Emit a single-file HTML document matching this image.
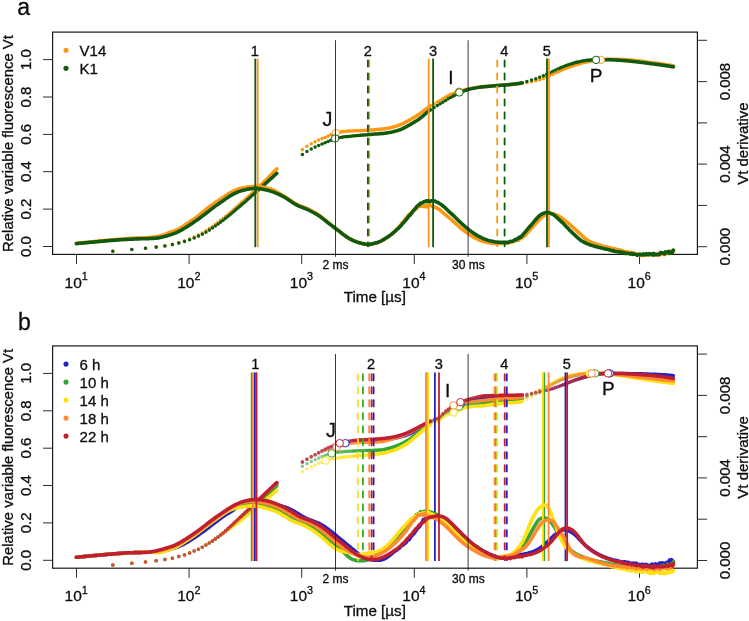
<!DOCTYPE html>
<html><head><meta charset="utf-8"><title>OJIP fluorescence transients</title>
<style>
html,body{margin:0;padding:0;background:#fff;}
body{width:749px;height:621px;overflow:hidden;font-family:"Liberation Sans",sans-serif;}
svg{display:block;will-change:transform;}
svg text{font-family:"Liberation Sans",sans-serif;fill:#0d0d0d;stroke:#0d0d0d;stroke-width:0.3px;}
</style></head><body>
<svg width="749" height="621" viewBox="0 0 749 621">
<rect width="749" height="621" fill="#fff"/>
<g><rect x="52.6" y="32.1" width="644.8" height="222.3" fill="none" stroke="#1a1a1a" stroke-width="1.2"/><text transform="translate(31.2 246.5) rotate(-90)" font-size="15" text-anchor="middle">0.0</text><text transform="translate(31.2 209.1) rotate(-90)" font-size="15" text-anchor="middle">0.2</text><text transform="translate(31.2 171.7) rotate(-90)" font-size="15" text-anchor="middle">0.4</text><text transform="translate(31.2 134.4) rotate(-90)" font-size="15" text-anchor="middle">0.6</text><text transform="translate(31.2 97.0) rotate(-90)" font-size="15" text-anchor="middle">0.8</text><text transform="translate(31.2 59.6) rotate(-90)" font-size="15" text-anchor="middle">1.0</text><text transform="translate(729.8 246.7) rotate(-90)" font-size="15" text-anchor="middle">0.000</text><text transform="translate(729.8 164.1) rotate(-90)" font-size="15" text-anchor="middle">0.004</text><text transform="translate(729.8 81.6) rotate(-90)" font-size="15" text-anchor="middle">0.008</text><text x="76.2" y="287.5" font-size="15.5" text-anchor="middle">10<tspan font-size="10.8" dy="-7.6">1</tspan></text><text x="188.8" y="287.5" font-size="15.5" text-anchor="middle">10<tspan font-size="10.8" dy="-7.6">2</tspan></text><text x="301.4" y="287.5" font-size="15.5" text-anchor="middle">10<tspan font-size="10.8" dy="-7.6">3</tspan></text><text x="414.0" y="287.5" font-size="15.5" text-anchor="middle">10<tspan font-size="10.8" dy="-7.6">4</tspan></text><text x="526.6" y="287.5" font-size="15.5" text-anchor="middle">10<tspan font-size="10.8" dy="-7.6">5</tspan></text><text x="639.2" y="287.5" font-size="15.5" text-anchor="middle">10<tspan font-size="10.8" dy="-7.6">6</tspan></text><path d="M52.6 246.5H43.0M52.6 209.1H43.0M52.6 171.7H43.0M52.6 134.4H43.0M52.6 97.0H43.0M52.6 59.6H43.0M697.4 246.7H707.0M697.4 205.4H707.0M697.4 164.1H707.0M697.4 122.9H707.0M697.4 81.6H707.0M697.4 40.3H707.0M76.5 254.4V264.0M189.1 254.4V264.0M301.7 254.4V264.0M414.3 254.4V264.0M526.9 254.4V264.0M639.5 254.4V264.0" stroke="#222" stroke-width="0.95" fill="none"/><text transform="translate(12.9 143.5) rotate(-90)" font-size="14.9" text-anchor="middle">Relative variable fluorescence Vt</text><text transform="translate(748.1 143.6) rotate(-90)" font-size="15" text-anchor="middle">Vt derivative</text><text x="374.8" y="302.0" font-size="15.2" text-anchor="middle">Time [µs]</text><text x="335.6" y="269.2" font-size="12" text-anchor="middle">2 ms</text><text x="468.3" y="269.2" font-size="12" text-anchor="middle">30 ms</text><text x="17.2" y="14.5" font-size="23" text-anchor="start">a</text><path d="M112.8 251.2h0M131.8 249.4h0M145.5 248.2h0M156.2 247.0h0M164.9 245.7h0M172.4 244.2h0M178.8 242.6h0M184.5 240.8h0M189.6 238.9h0M194.2 237.0h0M198.4 235.0h0M202.3 233.0h0M205.9 230.8h0M209.3 228.6h0M212.4 226.5h0M215.3 224.3h0M218.1 222.3h0M220.7 220.3h0M223.2 218.4h0M225.6 216.5h0M227.9 214.6h0M230.0 212.7h0M232.1 210.9h0M234.1 209.2h0M236.0 207.5h0M237.9 205.9h0M239.6 204.3h0M241.3 202.8h0M243.0 201.4h0M244.6 199.9h0M246.1 198.6h0M247.6 197.2h0M249.1 195.9h0M250.5 194.6h0M251.9 193.3h0M253.2 192.1h0M254.5 190.8h0M255.8 189.7h0M302.4 149.6h0M307.0 146.3h0M311.2 143.7h0M315.1 141.7h0M318.7 140.0h0M322.0 138.6h0M325.1 137.4h0M328.1 136.1h0M330.8 134.7h0M333.5 133.6h0M336.0 132.9h0M338.3 132.3h0M340.6 131.9h0M342.7 131.6h0M344.8 131.4h0M346.8 131.2h0M348.7 131.1h0M350.5 131.0h0M352.3 130.9h0M354.0 130.8h0M355.7 130.7h0M357.3 130.7h0M358.8 130.6h0M360.3 130.6h0M361.8 130.5h0M363.2 130.4h0M364.5 130.4h0M365.9 130.3h0M367.2 130.2h0M434.1 103.7h0M437.3 101.9h0M440.2 100.3h0M443.0 98.6h0M445.7 97.0h0M448.2 95.7h0M450.6 94.5h0M452.9 93.6h0M455.0 92.8h0M457.1 92.1h0M459.1 91.4h0M461.0 90.8h0M462.9 90.2h0M464.6 89.7h0M466.4 89.3h0M468.0 88.9h0M469.6 88.6h0M471.2 88.3h0M472.7 88.0h0M474.1 87.7h0M475.6 87.5h0M476.9 87.3h0M478.3 87.2h0M479.6 87.0h0M480.9 86.9h0M526.9 82.5h0M531.6 81.7h0M535.8 80.7h0M539.7 79.7h0M543.4 78.4h0M546.7 77.0h0M549.9 75.6h0M552.8 74.3h0M555.6 73.0h0M558.3 71.7h0M560.8 70.6h0M563.2 69.6h0M565.5 68.6h0M567.6 67.8h0M569.7 67.0h0M571.7 66.3h0M573.6 65.6h0M575.5 65.0h0M577.2 64.4h0M579.0 63.9h0M580.6 63.4h0M582.2 62.9h0M583.8 62.5h0M585.3 62.2h0M586.7 61.9h0M588.2 61.6h0M589.5 61.3h0M590.9 61.1h0M592.2 60.8h0M593.5 60.6h0" stroke="#FD9812" stroke-width="3.55" stroke-linecap="round" fill="none"/><path d="M257.0 188.5 258.2 187.3 259.4 186.2 260.5 185.1 261.7 184.0 262.8 182.9 263.8 181.9 264.9 180.9 265.9 179.9 266.9 178.9 267.9 177.9 268.9 176.9 269.8 176.0 270.7 175.0 271.7 174.1 272.6 173.2 273.4 172.3 274.3 171.4 275.1 170.5 276.0 169.7 276.8 168.8M368.4 130.2 369.7 130.1 370.9 130.0 372.1 129.9 373.2 129.9 374.3 129.8 375.4 129.7 376.5 129.6 377.5 129.5 378.6 129.4 379.6 129.3 380.6 129.2 381.5 129.1 382.5 129.0 383.4 128.9 384.3 128.8 385.2 128.7 386.1 128.6 386.9 128.5 387.8 128.3 388.6 128.2 389.4 128.0 390.2 127.8 391.0 127.6 391.8 127.4 392.6 127.2 393.3 127.0 394.1 126.8 394.8 126.6 395.5 126.3 396.3 126.1 397.0 125.9 397.7 125.7 398.3 125.4 399.0 125.2 399.7 124.9 400.3 124.7 401.0 124.4 401.6 124.1 402.2 123.9 402.9 123.6 403.5 123.3 404.1 123.0 404.7 122.6 405.3 122.3 405.9 122.0 406.4 121.7 407.0 121.4 407.6 121.1 408.1 120.8 408.7 120.5 409.2 120.2 409.8 119.9 410.3 119.6 410.8 119.3 411.4 119.0 411.9 118.7 412.4 118.4 412.9 118.1 413.4 117.8 413.9 117.5 414.4 117.2 414.9 116.9 415.3 116.6 415.8 116.3 416.3 116.0 416.8 115.7 417.2 115.4 417.7 115.1 418.1 114.9 418.6 114.6 419.0 114.3 419.5 114.0 419.9 113.7 420.3 113.4 420.8 113.1 421.2 112.7 421.6 112.4 422.0 112.1 422.5 111.8 422.9 111.5 423.3 111.2 423.7 110.8 424.1 110.5 424.5 110.2 424.9 109.9 425.3 109.6 425.7 109.3 426.0 109.0 426.4 108.7 426.8 108.4 427.2 108.1 427.6 107.8 427.9 107.5 428.3 107.3 428.7 107.0 429.0 106.8 429.4 106.5 429.7 106.3 430.1 106.1 430.5 105.9M482.1 86.8 483.3 86.7 484.5 86.5 485.6 86.4 486.8 86.4 487.9 86.3 488.9 86.2 490.0 86.1 491.0 86.0 492.0 86.0 493.0 85.9 494.0 85.8 494.9 85.7 495.9 85.7 496.8 85.6 497.7 85.5 498.5 85.5 499.4 85.4 500.3 85.3 501.1 85.3 501.9 85.2 502.7 85.2 503.5 85.1 504.3 85.0 505.1 85.0 505.8 84.9 506.6 84.9 507.3 84.8 508.0 84.8 508.8 84.7 509.5 84.6 510.2 84.6 510.8 84.5 511.5 84.5 512.2 84.4 512.8 84.3 513.5 84.3 514.1 84.2 514.7 84.1 515.4 84.1 516.0 84.0 516.6 83.9 517.2 83.8 517.8 83.8 518.4 83.7 519.0 83.6 519.5 83.6 520.1 83.5 520.6 83.4 521.2 83.3 521.7 83.3 522.3 83.2M594.7 60.4 595.9 60.3 597.1 60.1 598.2 60.0 599.4 59.8 600.5 59.7 601.5 59.7 602.6 59.6 603.6 59.5 604.6 59.4 605.6 59.4 606.6 59.3 607.5 59.3 608.5 59.2 609.4 59.2 610.3 59.2 611.1 59.2 612.0 59.2 612.9 59.2 613.7 59.2 614.5 59.3 615.3 59.3 616.1 59.3 616.9 59.3 617.7 59.4 618.4 59.4 619.2 59.4 619.9 59.4 620.6 59.5 621.4 59.5 622.1 59.5 622.8 59.6 623.4 59.6 624.1 59.6 624.8 59.7 625.4 59.7 626.1 59.7 626.7 59.8 627.3 59.8 628.0 59.8 628.6 59.9 629.2 59.9 629.8 60.0 630.4 60.0 631.0 60.1 631.6 60.1 632.1 60.2 632.7 60.3 633.2 60.3 633.8 60.4 634.3 60.4 634.9 60.5 635.4 60.6 636.0 60.6 636.5 60.7 637.0 60.8 637.5 60.8 638.0 60.9 638.5 60.9 639.0 61.0 639.5 61.1 640.0 61.1 640.5 61.2 640.9 61.3 641.4 61.3 641.9 61.4 642.3 61.4 642.8 61.5 643.3 61.6 643.7 61.6 644.2 61.7 644.6 61.7 645.0 61.8 645.5 61.8 645.9 61.9 646.3 61.9 646.8 62.0 647.2 62.0 647.6 62.1 648.0 62.2 648.4 62.2 648.8 62.3 649.2 62.3 649.6 62.4 650.0 62.4 650.4 62.5 650.8 62.5 651.2 62.6 651.6 62.6 652.0 62.7 652.3 62.7 652.7 62.8 653.1 62.8 653.4 62.9 653.8 62.9 654.2 63.0 654.5 63.0 654.9 63.1 655.3 63.1 655.6 63.2 656.0 63.2 656.3 63.2 656.6 63.3 657.0 63.3 657.3 63.4 657.7 63.4 658.0 63.5 658.3 63.5 658.7 63.6 659.0 63.6 659.3 63.7 659.7 63.7 660.0 63.8 660.3 63.8 660.6 63.9 660.9 63.9 661.2 64.0 661.6 64.0 661.9 64.1 662.2 64.1 662.5 64.1 662.8 64.2 663.1 64.2 663.4 64.3 663.7 64.3 664.0 64.4 664.3 64.4 664.6 64.5 664.9 64.5 665.2 64.5 665.4 64.6 665.7 64.6 666.0 64.7 666.3 64.7 666.6 64.8 666.9 64.8 667.1 64.9 667.4 64.9 667.7 64.9 668.0 65.0 668.2 65.0 668.5 65.1 668.8 65.1 669.1 65.2 669.3 65.2 669.6 65.2 669.8 65.3 670.1 65.3 670.4 65.4 670.6 65.4 670.9 65.5 671.1 65.5 671.4 65.5 671.7 65.6 671.9 65.6 672.2 65.7 672.4 65.7 672.7 65.7 672.9 65.8 673.2 65.8 673.4 65.9" stroke="#FD9812" stroke-width="3.55" stroke-linecap="round" stroke-linejoin="round" fill="none"/><path d="M112.8 251.2h0M131.8 249.4h0M145.5 248.2h0M156.2 247.1h0M164.9 245.9h0M172.4 244.6h0M178.8 243.1h0M184.5 241.4h0M189.6 239.7h0M194.2 238.0h0M198.4 236.1h0M202.3 234.2h0M205.9 232.2h0M209.3 230.1h0M212.4 228.0h0M215.3 225.9h0M218.1 224.0h0M220.7 222.1h0M223.2 220.2h0M225.6 218.3h0M227.9 216.5h0M230.0 214.7h0M232.1 212.9h0M234.1 211.3h0M236.0 209.6h0M237.9 208.0h0M239.6 206.5h0M241.3 205.1h0M243.0 203.6h0M244.6 202.2h0M246.1 200.9h0M247.6 199.5h0M249.1 198.3h0M250.5 197.0h0M251.9 195.8h0M253.2 194.6h0M254.5 193.4h0M255.8 192.3h0M302.4 154.4h0M307.0 151.5h0M311.2 149.0h0M315.1 147.1h0M318.7 145.4h0M322.0 144.0h0M325.1 142.8h0M328.1 141.5h0M330.8 140.3h0M333.5 139.2h0M336.0 138.5h0M338.3 137.9h0M340.6 137.5h0M342.7 137.1h0M344.8 136.8h0M346.8 136.6h0M348.7 136.4h0M350.5 136.2h0M352.3 136.0h0M354.0 135.8h0M355.7 135.7h0M357.3 135.5h0M358.8 135.4h0M360.3 135.3h0M361.8 135.1h0M363.2 135.0h0M364.5 134.9h0M365.9 134.8h0M367.2 134.7h0M434.1 107.5h0M437.3 105.6h0M440.2 103.8h0M443.0 102.1h0M445.7 100.4h0M448.2 98.8h0M450.6 97.5h0M452.9 96.2h0M455.0 95.1h0M457.1 94.1h0M459.1 93.1h0M461.0 92.3h0M462.9 91.5h0M464.6 90.7h0M466.4 90.1h0M468.0 89.6h0M469.6 89.2h0M471.2 88.8h0M472.7 88.4h0M474.1 88.2h0M475.6 87.9h0M476.9 87.7h0M478.3 87.5h0M479.6 87.3h0M480.9 87.1h0M526.9 81.5h0M531.6 80.1h0M535.8 78.7h0M539.7 77.3h0M543.4 75.8h0M546.7 74.2h0M549.9 72.7h0M552.8 71.3h0M555.6 70.0h0M558.3 68.7h0M560.8 67.6h0M563.2 66.7h0M565.5 65.8h0M567.6 65.0h0M569.7 64.3h0M571.7 63.7h0M573.6 63.1h0M575.5 62.5h0M577.2 62.1h0M579.0 61.7h0M580.6 61.4h0M582.2 61.0h0M583.8 60.8h0M585.3 60.5h0M586.7 60.3h0M588.2 60.2h0M589.5 60.1h0M590.9 59.9h0M592.2 59.8h0M593.5 59.8h0" stroke="#0F5A0C" stroke-width="3.55" stroke-linecap="round" fill="none"/><path d="M257.0 191.2 258.2 190.1 259.4 189.1 260.5 188.0 261.7 187.0 262.8 186.0 263.8 185.1 264.9 184.1 265.9 183.2 266.9 182.3 267.9 181.4 268.9 180.5 269.8 179.7 270.7 178.8 271.7 178.0 272.6 177.2 273.4 176.4 274.3 175.6 275.1 174.8 276.0 174.1 276.8 173.3M368.4 134.6 369.7 134.5 370.9 134.4 372.1 134.3 373.2 134.2 374.3 134.1 375.4 134.0 376.5 134.0 377.5 133.9 378.6 133.8 379.6 133.7 380.6 133.6 381.5 133.6 382.5 133.5 383.4 133.4 384.3 133.3 385.2 133.2 386.1 133.1 386.9 133.0 387.8 132.8 388.6 132.7 389.4 132.6 390.2 132.4 391.0 132.2 391.8 132.1 392.6 131.9 393.3 131.7 394.1 131.5 394.8 131.3 395.5 131.1 396.3 130.9 397.0 130.7 397.7 130.5 398.3 130.3 399.0 130.1 399.7 129.9 400.3 129.6 401.0 129.4 401.6 129.1 402.2 128.8 402.9 128.5 403.5 128.2 404.1 127.9 404.7 127.6 405.3 127.3 405.9 127.0 406.4 126.7 407.0 126.3 407.6 126.0 408.1 125.7 408.7 125.4 409.2 125.1 409.8 124.8 410.3 124.5 410.8 124.2 411.4 123.9 411.9 123.6 412.4 123.3 412.9 123.0 413.4 122.7 413.9 122.4 414.4 122.1 414.9 121.8 415.3 121.5 415.8 121.2 416.3 120.9 416.8 120.6 417.2 120.3 417.7 120.0 418.1 119.7 418.6 119.4 419.0 119.1 419.5 118.8 419.9 118.5 420.3 118.1 420.8 117.8 421.2 117.5 421.6 117.1 422.0 116.8 422.5 116.4 422.9 116.1 423.3 115.7 423.7 115.3 424.1 115.0 424.5 114.6 424.9 114.3 425.3 113.9 425.7 113.5 426.0 113.2 426.4 112.9 426.8 112.5 427.2 112.2 427.6 111.9 427.9 111.6 428.3 111.3 428.7 111.0 429.0 110.8 429.4 110.5 429.7 110.3 430.1 110.0 430.5 109.8M482.1 87.0 483.3 86.8 484.5 86.7 485.6 86.6 486.8 86.5 487.9 86.4 488.9 86.3 490.0 86.2 491.0 86.1 492.0 86.0 493.0 85.9 494.0 85.8 494.9 85.7 495.9 85.7 496.8 85.6 497.7 85.5 498.5 85.4 499.4 85.4 500.3 85.3 501.1 85.2 501.9 85.2 502.7 85.1 503.5 85.1 504.3 85.0 505.1 84.9 505.8 84.9 506.6 84.8 507.3 84.7 508.0 84.7 508.8 84.6 509.5 84.6 510.2 84.5 510.8 84.4 511.5 84.3 512.2 84.3 512.8 84.2 513.5 84.1 514.1 84.1 514.7 84.0 515.4 83.9 516.0 83.8 516.6 83.7 517.2 83.7 517.8 83.6 518.4 83.5 519.0 83.4 519.5 83.3 520.1 83.2 520.6 83.1 521.2 83.0 521.7 82.9 522.3 82.8M594.7 59.7 595.9 59.7 597.1 59.7 598.2 59.7 599.4 59.7 600.5 59.7 601.5 59.7 602.6 59.7 603.6 59.7 604.6 59.7 605.6 59.8 606.6 59.8 607.5 59.8 608.5 59.8 609.4 59.8 610.3 59.8 611.1 59.8 612.0 59.8 612.9 59.9 613.7 59.9 614.5 59.9 615.3 60.0 616.1 60.0 616.9 60.1 617.7 60.1 618.4 60.2 619.2 60.2 619.9 60.3 620.6 60.3 621.4 60.4 622.1 60.4 622.8 60.5 623.4 60.5 624.1 60.6 624.8 60.6 625.4 60.7 626.1 60.7 626.7 60.8 627.3 60.8 628.0 60.9 628.6 61.0 629.2 61.0 629.8 61.1 630.4 61.1 631.0 61.2 631.6 61.3 632.1 61.3 632.7 61.4 633.2 61.4 633.8 61.5 634.3 61.6 634.9 61.6 635.4 61.7 636.0 61.7 636.5 61.8 637.0 61.9 637.5 61.9 638.0 62.0 638.5 62.1 639.0 62.1 639.5 62.2 640.0 62.2 640.5 62.3 640.9 62.4 641.4 62.4 641.9 62.5 642.3 62.5 642.8 62.6 643.3 62.7 643.7 62.7 644.2 62.8 644.6 62.8 645.0 62.9 645.5 62.9 645.9 63.0 646.3 63.0 646.8 63.1 647.2 63.1 647.6 63.2 648.0 63.3 648.4 63.3 648.8 63.4 649.2 63.4 649.6 63.5 650.0 63.5 650.4 63.6 650.8 63.6 651.2 63.7 651.6 63.7 652.0 63.8 652.3 63.8 652.7 63.9 653.1 63.9 653.4 63.9 653.8 64.0 654.2 64.0 654.5 64.1 654.9 64.1 655.3 64.2 655.6 64.2 656.0 64.3 656.3 64.3 656.6 64.4 657.0 64.4 657.3 64.5 657.7 64.5 658.0 64.6 658.3 64.6 658.7 64.6 659.0 64.7 659.3 64.7 659.7 64.8 660.0 64.8 660.3 64.9 660.6 64.9 660.9 65.0 661.2 65.0 661.6 65.0 661.9 65.1 662.2 65.1 662.5 65.2 662.8 65.2 663.1 65.3 663.4 65.3 663.7 65.3 664.0 65.4 664.3 65.4 664.6 65.5 664.9 65.5 665.2 65.6 665.4 65.6 665.7 65.6 666.0 65.7 666.3 65.7 666.6 65.8 666.9 65.8 667.1 65.8 667.4 65.9 667.7 65.9 668.0 66.0 668.2 66.0 668.5 66.0 668.8 66.1 669.1 66.1 669.3 66.2 669.6 66.2 669.8 66.2 670.1 66.3 670.4 66.3 670.6 66.4 670.9 66.4 671.1 66.4 671.4 66.5 671.7 66.5 671.9 66.6 672.2 66.6 672.4 66.6 672.7 66.7 672.9 66.7 673.2 66.7 673.4 66.8" stroke="#0F5A0C" stroke-width="3.55" stroke-linecap="round" stroke-linejoin="round" fill="none"/><circle cx="335.9" cy="133.1" r="3.75" fill="#fff" stroke="#FD9812" stroke-width="0.95"/><circle cx="335.1" cy="138.4" r="3.75" fill="#fff" stroke="#0F5A0C" stroke-width="0.95"/><circle cx="458.9" cy="91.7" r="3.75" fill="#fff" stroke="#FD9812" stroke-width="0.95"/><circle cx="459.3" cy="92.4" r="3.75" fill="#fff" stroke="#0F5A0C" stroke-width="0.95"/><circle cx="600.9" cy="59.9" r="3.75" fill="#fff" stroke="#FD9812" stroke-width="0.95"/><circle cx="596.0" cy="59.9" r="3.75" fill="#fff" stroke="#0F5A0C" stroke-width="0.95"/><path d="M76.4 243.3 77.4 243.2 78.4 243.1 79.4 243.0 80.4 242.9 81.4 242.8 82.4 242.7 83.4 242.6 84.4 242.5 85.4 242.4 86.4 242.3 87.4 242.2 88.4 242.1 89.4 242.0 90.4 241.9 91.4 241.8 92.4 241.7 93.4 241.6 94.4 241.5 95.4 241.4 96.4 241.3 97.4 241.2 98.4 241.1 99.4 241.0 100.4 240.9 101.4 240.8 102.4 240.7 103.4 240.6 104.4 240.5 105.4 240.4 106.4 240.3 107.4 240.2 108.4 240.1 109.4 240.0 110.4 239.9 111.4 239.8 112.4 239.8 113.4 239.7 114.4 239.6 115.4 239.5 116.4 239.5 117.4 239.4 118.4 239.3 119.4 239.2 120.4 239.1 121.4 239.1 122.4 239.0 123.4 238.9 124.4 238.9 125.4 238.8 126.4 238.7 127.4 238.7 128.4 238.6 129.4 238.5 130.4 238.5 131.4 238.4 132.4 238.3 133.4 238.3 134.4 238.2 135.4 238.2 136.4 238.1 137.4 238.1 138.4 238.0 139.4 238.0 140.4 238.0 141.4 237.9 142.4 237.9 143.4 237.8 144.4 237.8 145.4 237.7 146.4 237.7 147.4 237.6 148.4 237.6 149.4 237.5 150.4 237.4 151.4 237.3 152.4 237.2 153.4 237.1 154.4 237.0 155.4 236.9 156.4 236.7 157.4 236.6 158.4 236.3 159.4 236.1 160.4 235.8 161.4 235.5 162.4 235.2 163.4 234.9 164.4 234.5 165.4 234.2 166.4 233.8 167.4 233.3 168.4 232.9 169.4 232.5 170.4 232.1 171.4 231.8 172.4 231.4 173.4 231.1 174.4 230.7 175.4 230.4 176.4 230.0 177.4 229.6 178.4 229.1 179.4 228.6 180.4 228.0 181.4 227.4 182.4 226.7 183.4 226.1 184.4 225.4 185.4 224.7 186.4 224.0 187.4 223.3 188.4 222.7 189.4 222.0 190.4 221.3 191.4 220.7 192.4 220.0 193.4 219.3 194.4 218.6 195.4 217.9 196.4 217.1 197.4 216.4 198.4 215.6 199.4 214.8 200.4 214.0 201.4 213.1 202.4 212.3 203.4 211.4 204.4 210.6 205.4 209.8 206.4 209.0 207.4 208.2 208.4 207.5 209.4 206.8 210.4 206.0 211.4 205.3 212.4 204.6 213.4 203.9 214.4 203.2 215.4 202.5 216.4 201.8 217.4 201.2 218.4 200.5 219.4 199.8 220.4 199.1 221.4 198.5 222.4 197.8 223.4 197.2 224.4 196.5 225.4 195.8 226.4 195.1 227.4 194.5 228.4 193.8 229.4 193.2 230.4 192.6 231.4 192.1 232.4 191.6 233.4 191.1 234.4 190.7 235.4 190.2 236.4 189.8 237.4 189.4 238.4 189.0 239.4 188.6 240.4 188.4 241.4 188.1 242.4 187.9 243.4 187.8 244.4 187.6 245.4 187.4 246.4 187.3 247.4 187.1 248.4 187.0 249.4 186.9 250.4 186.8 251.4 186.7 252.4 186.6 253.4 186.5 254.4 186.5 255.4 186.4 256.4 186.4 257.4 186.4 258.4 186.4 259.4 186.5 260.4 186.6 261.4 186.8 262.4 187.0 263.4 187.2 264.4 187.4 265.4 187.6 266.4 187.9 267.4 188.2 268.4 188.4 269.4 188.7 270.4 189.0 271.4 189.3 272.4 189.7 273.4 190.1 274.4 190.5 275.4 191.1 276.4 191.6 277.4 192.2 278.4 192.8 279.4 193.4 280.4 194.0 281.4 194.6 282.4 195.2 283.4 195.8 284.4 196.4 285.4 197.0 286.4 197.7 287.4 198.3 288.4 199.0 289.4 199.7 290.4 200.4 291.4 201.0 292.4 201.7 293.4 202.3 294.4 203.0 295.4 203.5 296.4 204.1 297.4 204.6 298.4 205.1 299.4 205.5 300.4 205.9 301.4 206.3 302.4 206.7 303.4 207.1 304.4 207.5 305.4 207.9 306.4 208.3 307.4 208.7 308.4 209.2 309.4 209.7 310.4 210.2 311.4 210.7 312.4 211.2 313.4 211.8 314.4 212.3 315.4 212.9 316.4 213.5 317.4 214.1 318.4 214.8 319.4 215.4 320.4 216.2 321.4 216.9 322.4 217.7 323.4 218.5 324.4 219.4 325.4 220.2 326.4 221.0 327.4 221.9 328.4 222.7 329.4 223.5 330.4 224.3 331.4 225.1 332.4 225.9 333.4 226.7 334.4 227.5 335.4 228.3 336.4 229.1 337.4 229.9 338.4 230.7 339.4 231.5 340.4 232.3 341.4 233.1 342.4 233.8 343.4 234.6 344.4 235.4 345.4 236.1 346.4 236.8 347.4 237.4 348.4 238.0 349.4 238.6 350.4 239.1 351.4 239.6 352.4 240.1 353.4 240.6 354.4 241.0 355.4 241.4 356.4 241.8 357.4 242.2 358.4 242.5 359.4 242.8 360.4 243.1 361.4 243.4 362.4 243.7 363.4 243.9 364.4 244.2 365.4 244.4 366.4 244.5 367.4 244.6 368.4 244.6 369.4 244.5 370.4 244.4 371.4 244.3 372.4 244.0 373.4 243.8 374.4 243.5 375.4 243.3 376.4 243.0 377.4 242.7 378.4 242.3 379.4 241.9 380.4 241.5 381.4 241.0 382.4 240.4 383.4 239.9 384.4 239.3 385.4 238.7 386.4 238.0 387.4 237.3 388.4 236.7 389.4 235.9 390.4 235.0 391.4 234.2 392.4 233.6 393.4 232.4 394.4 231.4 395.4 230.6 396.4 229.7 397.4 228.6 398.4 227.4 399.4 226.3 400.4 225.5 401.4 224.1 402.4 222.5 403.4 221.9 404.4 220.5 405.4 219.0 406.4 217.8 407.4 216.7 408.4 215.4 409.4 214.2 410.4 213.7 411.4 212.3 412.4 211.9 413.4 210.4 414.4 209.9 415.4 209.1 416.4 209.0 417.4 207.3 418.4 206.6 419.4 206.5 420.4 206.0 421.4 206.1 422.4 206.3 423.4 206.3 424.4 206.6 425.4 205.3 426.4 206.9 427.4 206.5 428.4 205.4 429.4 204.3 430.4 205.6 431.4 205.9 432.4 206.3 433.4 206.6 434.4 207.0 435.4 207.4 436.4 207.9 437.4 208.4 438.4 209.0 439.4 209.7 440.4 210.4 441.4 211.2 442.4 212.1 443.4 212.9 444.4 213.8 445.4 214.7 446.4 215.5 447.4 216.3 448.4 217.1 449.4 218.0 450.4 218.9 451.4 219.7 452.4 220.6 453.4 221.5 454.4 222.4 455.4 223.3 456.4 224.2 457.4 225.1 458.4 226.0 459.4 226.9 460.4 227.8 461.4 228.6 462.4 229.4 463.4 230.2 464.4 231.0 465.4 231.7 466.4 232.4 467.4 233.1 468.4 233.8 469.4 234.5 470.4 235.2 471.4 235.9 472.4 236.5 473.4 237.1 474.4 237.7 475.4 238.2 476.4 238.7 477.4 239.2 478.4 239.6 479.4 240.0 480.4 240.4 481.4 240.8 482.4 241.2 483.4 241.5 484.4 241.8 485.4 242.1 486.4 242.3 487.4 242.5 488.4 242.6 489.4 242.8 490.4 243.0 491.4 243.1 492.4 243.3 493.4 243.4 494.4 243.5 495.4 243.4 496.4 243.5 497.4 243.5 498.4 243.6 499.4 243.5 500.4 243.4 501.4 243.4 502.4 243.1 503.4 243.3 504.4 243.1 505.4 243.1 506.4 242.9 507.4 243.1 508.4 242.7 509.4 242.6 510.4 242.4 511.4 241.7 512.4 241.9 513.4 241.5 514.4 241.2 515.4 240.6 516.4 240.2 517.4 240.3 518.4 240.4 519.4 238.6 520.4 238.7 521.4 237.8 522.4 237.7 523.4 236.6 524.4 235.8 525.4 234.9 526.4 233.9 527.4 232.8 528.4 231.7 529.4 230.5 530.4 229.4 531.4 228.2 532.4 227.1 533.4 226.0 534.4 224.9 535.4 223.9 536.4 222.8 537.4 221.8 538.4 220.7 539.4 219.6 540.4 218.6 541.4 217.6 542.4 216.8 543.4 216.0 544.4 215.3 545.4 214.7 546.4 214.1 547.4 213.6 548.4 213.3 549.4 213.2 550.4 213.3 551.4 213.5 552.4 213.7 553.4 214.0 554.4 214.3 555.4 214.6 556.4 214.9 557.4 215.4 558.4 215.9 559.4 216.5 560.4 217.1 561.4 217.8 562.4 218.6 563.4 219.3 564.4 220.1 565.4 220.9 566.4 221.6 567.4 222.4 568.4 223.2 569.4 224.1 570.4 224.9 571.4 225.9 572.4 226.8 573.4 227.7 574.4 228.7 575.4 229.6 576.4 230.5 577.4 231.4 578.4 232.3 579.4 233.2 580.4 234.1 581.4 235.0 582.4 236.0 583.4 236.9 584.4 237.8 585.4 238.7 586.4 239.5 587.4 240.2 588.4 240.9 589.4 241.5 590.4 241.9 591.4 242.4 592.4 242.8 593.4 243.1 594.4 243.5 595.4 243.8 596.4 244.1 597.4 244.4 598.4 244.7 599.4 245.0 600.4 245.3 601.4 245.7 602.4 246.0 603.4 246.2 604.4 246.5 605.4 246.7 606.4 247.0 607.4 247.3 608.4 247.4 609.4 247.6 610.4 248.0 611.4 248.0 612.4 248.7 613.4 248.7 614.4 248.8 615.4 249.1 616.4 249.3 617.4 249.6 618.4 250.1 619.4 249.8 620.4 250.0 621.4 250.7 622.4 250.8 623.4 251.1 624.4 251.5 625.4 251.5 626.4 252.0 627.4 251.7 628.4 252.3 629.4 252.2 630.4 252.3 631.4 253.1 632.4 253.3 633.4 252.6 634.4 253.1 635.4 253.9 636.4 254.5 637.4 254.0 638.4 254.4 639.4 253.9 640.4 255.7 641.4 254.8 642.4 255.0 643.4 254.9 644.4 255.0 645.4 254.9 646.4 254.4 647.4 254.9 648.4 254.5 649.4 255.2 650.4 254.0 651.4 254.1 652.4 254.8 653.4 255.1 654.4 254.4 655.4 253.9 656.4 254.2 657.4 253.9 658.4 255.4 659.4 254.7 660.4 254.8 661.4 254.1 662.4 253.4 663.4 254.4 664.4 254.6 665.4 253.7 666.4 253.1 667.4 253.7 668.4 252.4 669.4 253.1 670.4 251.7 671.4 251.1 672.4 252.0 673.4 251.5" stroke="#FD9812" stroke-width="3.6" stroke-linecap="round" stroke-linejoin="round" fill="none"/><line x1="257.70" y1="58.6" x2="257.70" y2="247.2" stroke="#FD9812" stroke-width="1.80"/><line x1="428.70" y1="58.6" x2="428.70" y2="247.2" stroke="#FD9812" stroke-width="1.80"/><line x1="549.00" y1="58.6" x2="549.00" y2="247.2" stroke="#FD9812" stroke-width="1.80"/><line x1="369.20" y1="60.4" x2="369.20" y2="246.3" stroke="#FD9812" stroke-width="1.80" stroke-linecap="round" stroke-dasharray="6.20 6.80"/><line x1="497.20" y1="60.4" x2="497.20" y2="246.3" stroke="#FD9812" stroke-width="1.80" stroke-linecap="round" stroke-dasharray="6.20 6.80"/><path d="M76.4 243.6 77.4 243.5 78.4 243.4 79.4 243.3 80.4 243.2 81.4 243.1 82.4 243.0 83.4 243.0 84.4 242.9 85.4 242.8 86.4 242.7 87.4 242.6 88.4 242.5 89.4 242.4 90.4 242.3 91.4 242.2 92.4 242.1 93.4 242.0 94.4 242.0 95.4 241.9 96.4 241.8 97.4 241.7 98.4 241.6 99.4 241.5 100.4 241.4 101.4 241.3 102.4 241.2 103.4 241.1 104.4 241.0 105.4 240.9 106.4 240.9 107.4 240.8 108.4 240.7 109.4 240.6 110.4 240.5 111.4 240.4 112.4 240.4 113.4 240.3 114.4 240.2 115.4 240.2 116.4 240.1 117.4 240.0 118.4 239.9 119.4 239.9 120.4 239.8 121.4 239.7 122.4 239.7 123.4 239.6 124.4 239.5 125.4 239.5 126.4 239.4 127.4 239.4 128.4 239.3 129.4 239.3 130.4 239.2 131.4 239.2 132.4 239.1 133.4 239.1 134.4 239.0 135.4 239.0 136.4 238.9 137.4 238.9 138.4 238.9 139.4 238.9 140.4 238.8 141.4 238.8 142.4 238.8 143.4 238.7 144.4 238.7 145.4 238.7 146.4 238.7 147.4 238.6 148.4 238.6 149.4 238.5 150.4 238.5 151.4 238.5 152.4 238.4 153.4 238.4 154.4 238.3 155.4 238.2 156.4 238.2 157.4 238.0 158.4 237.9 159.4 237.7 160.4 237.5 161.4 237.3 162.4 237.0 163.4 236.8 164.4 236.6 165.4 236.3 166.4 236.0 167.4 235.7 168.4 235.4 169.4 235.1 170.4 234.8 171.4 234.4 172.4 234.1 173.4 233.7 174.4 233.4 175.4 233.0 176.4 232.6 177.4 232.2 178.4 231.7 179.4 231.2 180.4 230.7 181.4 230.1 182.4 229.5 183.4 228.9 184.4 228.3 185.4 227.7 186.4 227.1 187.4 226.5 188.4 225.8 189.4 225.2 190.4 224.5 191.4 223.9 192.4 223.2 193.4 222.5 194.4 221.8 195.4 221.1 196.4 220.4 197.4 219.7 198.4 219.0 199.4 218.3 200.4 217.5 201.4 216.8 202.4 216.0 203.4 215.3 204.4 214.5 205.4 213.8 206.4 213.0 207.4 212.2 208.4 211.5 209.4 210.7 210.4 209.9 211.4 209.1 212.4 208.4 213.4 207.6 214.4 206.8 215.4 206.1 216.4 205.4 217.4 204.7 218.4 204.0 219.4 203.3 220.4 202.6 221.4 201.9 222.4 201.2 223.4 200.5 224.4 199.8 225.4 199.1 226.4 198.4 227.4 197.7 228.4 197.1 229.4 196.4 230.4 195.8 231.4 195.2 232.4 194.7 233.4 194.2 234.4 193.7 235.4 193.2 236.4 192.7 237.4 192.2 238.4 191.8 239.4 191.4 240.4 191.1 241.4 190.8 242.4 190.5 243.4 190.3 244.4 190.0 245.4 189.8 246.4 189.6 247.4 189.3 248.4 189.1 249.4 189.0 250.4 188.8 251.4 188.7 252.4 188.5 253.4 188.5 254.4 188.4 255.4 188.4 256.4 188.4 257.4 188.5 258.4 188.6 259.4 188.7 260.4 188.8 261.4 189.0 262.4 189.2 263.4 189.4 264.4 189.6 265.4 189.9 266.4 190.1 267.4 190.3 268.4 190.6 269.4 190.8 270.4 191.1 271.4 191.4 272.4 191.7 273.4 192.1 274.4 192.4 275.4 192.8 276.4 193.3 277.4 193.7 278.4 194.2 279.4 194.7 280.4 195.2 281.4 195.7 282.4 196.2 283.4 196.7 284.4 197.2 285.4 197.8 286.4 198.4 287.4 199.0 288.4 199.7 289.4 200.4 290.4 201.0 291.4 201.7 292.4 202.4 293.4 203.1 294.4 203.7 295.4 204.3 296.4 204.9 297.4 205.4 298.4 205.9 299.4 206.3 300.4 206.7 301.4 207.1 302.4 207.5 303.4 207.9 304.4 208.3 305.4 208.7 306.4 209.1 307.4 209.5 308.4 210.0 309.4 210.5 310.4 211.0 311.4 211.5 312.4 212.0 313.4 212.5 314.4 213.1 315.4 213.6 316.4 214.2 317.4 214.8 318.4 215.5 319.4 216.1 320.4 216.8 321.4 217.6 322.4 218.3 323.4 219.1 324.4 219.9 325.4 220.7 326.4 221.5 327.4 222.3 328.4 223.1 329.4 223.8 330.4 224.6 331.4 225.3 332.4 226.1 333.4 226.8 334.4 227.6 335.4 228.3 336.4 229.1 337.4 229.8 338.4 230.6 339.4 231.4 340.4 232.2 341.4 233.0 342.4 233.8 343.4 234.6 344.4 235.3 345.4 236.0 346.4 236.7 347.4 237.4 348.4 238.0 349.4 238.6 350.4 239.1 351.4 239.6 352.4 240.1 353.4 240.6 354.4 241.0 355.4 241.5 356.4 241.9 357.4 242.2 358.4 242.6 359.4 242.8 360.4 243.1 361.4 243.3 362.4 243.6 363.4 243.8 364.4 244.0 365.4 244.2 366.4 244.3 367.4 244.4 368.4 244.4 369.4 244.3 370.4 244.2 371.4 244.1 372.4 243.8 373.4 243.6 374.4 243.3 375.4 243.1 376.4 242.8 377.4 242.5 378.4 242.1 379.4 241.7 380.4 241.3 381.4 240.8 382.4 240.2 383.4 239.6 384.4 239.1 385.4 238.4 386.4 237.8 387.4 237.2 388.4 236.5 389.4 235.8 390.4 235.1 391.4 234.4 392.4 233.7 393.4 232.5 394.4 232.0 395.4 231.1 396.4 230.0 397.4 229.0 398.4 228.4 399.4 227.2 400.4 226.3 401.4 225.3 402.4 223.9 403.4 222.8 404.4 221.6 405.4 220.5 406.4 219.5 407.4 218.2 408.4 216.6 409.4 215.3 410.4 215.0 411.4 213.3 412.4 212.1 413.4 210.5 414.4 209.9 415.4 208.2 416.4 207.2 417.4 205.9 418.4 205.2 419.4 204.6 420.4 203.3 421.4 203.0 422.4 202.9 423.4 201.9 424.4 201.5 425.4 201.4 426.4 200.8 427.4 201.6 428.4 200.6 429.4 201.4 430.4 201.4 431.4 200.9 432.4 200.8 433.4 200.8 434.4 201.0 435.4 201.3 436.4 201.8 437.4 202.3 438.4 202.9 439.4 203.5 440.4 204.0 441.4 204.7 442.4 205.4 443.4 206.3 444.4 207.1 445.4 208.1 446.4 209.0 447.4 210.0 448.4 210.9 449.4 211.9 450.4 212.8 451.4 213.7 452.4 214.6 453.4 215.5 454.4 216.5 455.4 217.5 456.4 218.4 457.4 219.4 458.4 220.4 459.4 221.4 460.4 222.3 461.4 223.3 462.4 224.2 463.4 225.1 464.4 226.0 465.4 226.9 466.4 227.7 467.4 228.5 468.4 229.3 469.4 230.1 470.4 230.8 471.4 231.6 472.4 232.3 473.4 233.0 474.4 233.7 475.4 234.4 476.4 235.0 477.4 235.6 478.4 236.2 479.4 236.7 480.4 237.2 481.4 237.7 482.4 238.1 483.4 238.6 484.4 239.0 485.4 239.4 486.4 239.7 487.4 240.1 488.4 240.4 489.4 240.7 490.4 240.9 491.4 241.1 492.4 241.3 493.4 241.6 494.4 241.8 495.4 242.0 496.4 242.2 497.4 242.1 498.4 242.3 499.4 242.3 500.4 242.3 501.4 242.4 502.4 242.2 503.4 242.3 504.4 242.4 505.4 242.4 506.4 242.4 507.4 242.8 508.4 242.0 509.4 241.9 510.4 241.2 511.4 241.4 512.4 241.2 513.4 240.9 514.4 239.9 515.4 239.5 516.4 239.6 517.4 238.6 518.4 238.4 519.4 237.0 520.4 237.4 521.4 236.4 522.4 235.3 523.4 234.0 524.4 232.9 525.4 231.8 526.4 230.6 527.4 229.4 528.4 228.2 529.4 227.0 530.4 225.8 531.4 224.7 532.4 223.6 533.4 222.4 534.4 221.2 535.4 220.0 536.4 218.8 537.4 217.7 538.4 216.6 539.4 215.7 540.4 215.0 541.4 214.4 542.4 213.8 543.4 213.3 544.4 212.9 545.4 212.6 546.4 212.4 547.4 212.4 548.4 212.6 549.4 212.9 550.4 213.3 551.4 213.7 552.4 214.2 553.4 214.7 554.4 215.4 555.4 216.2 556.4 217.0 557.4 217.9 558.4 218.9 559.4 219.8 560.4 220.8 561.4 221.7 562.4 222.6 563.4 223.6 564.4 224.6 565.4 225.7 566.4 226.7 567.4 227.8 568.4 228.8 569.4 229.9 570.4 230.9 571.4 231.8 572.4 232.8 573.4 233.7 574.4 234.7 575.4 235.6 576.4 236.6 577.4 237.5 578.4 238.4 579.4 239.2 580.4 240.0 581.4 240.7 582.4 241.3 583.4 241.9 584.4 242.4 585.4 242.9 586.4 243.4 587.4 243.8 588.4 244.2 589.4 244.6 590.4 245.0 591.4 245.3 592.4 245.6 593.4 245.9 594.4 246.2 595.4 246.5 596.4 246.8 597.4 247.0 598.4 247.3 599.4 247.5 600.4 247.8 601.4 248.0 602.4 248.3 603.4 248.5 604.4 248.7 605.4 249.0 606.4 249.2 607.4 249.3 608.4 249.7 609.4 249.8 610.4 250.1 611.4 250.6 612.4 250.6 613.4 250.6 614.4 251.2 615.4 251.4 616.4 251.6 617.4 251.6 618.4 251.9 619.4 251.9 620.4 252.0 621.4 252.7 622.4 252.4 623.4 252.5 624.4 252.7 625.4 253.5 626.4 253.4 627.4 253.2 628.4 253.4 629.4 253.8 630.4 254.1 631.4 253.3 632.4 254.4 633.4 254.1 634.4 254.0 635.4 254.2 636.4 254.8 637.4 255.3 638.4 254.6 639.4 254.8 640.4 254.2 641.4 254.8 642.4 255.0 643.4 253.9 644.4 254.3 645.4 254.9 646.4 253.6 647.4 254.3 648.4 254.7 649.4 253.5 650.4 254.1 651.4 254.3 652.4 254.8 653.4 253.5 654.4 254.8 655.4 254.3 656.4 254.8 657.4 254.7 658.4 254.2 659.4 254.2 660.4 252.6 661.4 252.8 662.4 252.9 663.4 253.2 664.4 253.9 665.4 251.8 666.4 252.7 667.4 251.8 668.4 251.4 669.4 253.4 670.4 252.0 671.4 252.9 672.4 252.2 673.4 250.1" stroke="#0F5A0C" stroke-width="3.6" stroke-linecap="round" stroke-linejoin="round" fill="none"/><line x1="255.30" y1="58.6" x2="255.30" y2="247.2" stroke="#0F5A0C" stroke-width="1.80"/><line x1="433.10" y1="58.6" x2="433.10" y2="247.2" stroke="#0F5A0C" stroke-width="1.80"/><line x1="547.00" y1="58.6" x2="547.00" y2="247.2" stroke="#0F5A0C" stroke-width="1.80"/><line x1="367.90" y1="60.4" x2="367.90" y2="246.3" stroke="#0F5A0C" stroke-width="1.80" stroke-linecap="round" stroke-dasharray="6.20 6.80"/><line x1="504.60" y1="60.4" x2="504.60" y2="246.3" stroke="#0F5A0C" stroke-width="1.80" stroke-linecap="round" stroke-dasharray="6.20 6.80"/><text x="254.9" y="55.5" font-size="14.6" text-anchor="middle" >1</text><text x="367.7" y="55.5" font-size="14.6" text-anchor="middle" >2</text><text x="433.0" y="55.5" font-size="14.6" text-anchor="middle" >3</text><text x="504.4" y="55.5" font-size="14.6" text-anchor="middle" >4</text><text x="546.8" y="55.5" font-size="14.6" text-anchor="middle" >5</text><text x="327.5" y="126.4" font-size="19.8" text-anchor="middle" >J</text><text x="451.0" y="84.0" font-size="19" text-anchor="middle" >I</text><text x="596.2" y="81.8" font-size="19" text-anchor="middle" >P</text><path d="M335.5 40.2V256.8M468.1 40.2V256.8" stroke="#222" stroke-width="0.9" fill="none"/><circle cx="66" cy="50.3" r="2.55" fill="#FD9812"/><circle cx="66" cy="68.2" r="2.55" fill="#0F5A0C"/><text x="79.6" y="56.0" font-size="15" text-anchor="start" >V14</text><text x="79.6" y="73.9" font-size="15" text-anchor="start" >K1</text></g>
<g transform="translate(0 313.8)"><rect x="52.6" y="32.1" width="644.8" height="222.3" fill="none" stroke="#1a1a1a" stroke-width="1.2"/><text transform="translate(31.2 246.5) rotate(-90)" font-size="15" text-anchor="middle">0.0</text><text transform="translate(31.2 209.1) rotate(-90)" font-size="15" text-anchor="middle">0.2</text><text transform="translate(31.2 171.7) rotate(-90)" font-size="15" text-anchor="middle">0.4</text><text transform="translate(31.2 134.4) rotate(-90)" font-size="15" text-anchor="middle">0.6</text><text transform="translate(31.2 97.0) rotate(-90)" font-size="15" text-anchor="middle">0.8</text><text transform="translate(31.2 59.6) rotate(-90)" font-size="15" text-anchor="middle">1.0</text><text transform="translate(729.8 246.7) rotate(-90)" font-size="15" text-anchor="middle">0.000</text><text transform="translate(729.8 164.1) rotate(-90)" font-size="15" text-anchor="middle">0.004</text><text transform="translate(729.8 81.6) rotate(-90)" font-size="15" text-anchor="middle">0.008</text><text x="76.2" y="287.5" font-size="15.5" text-anchor="middle">10<tspan font-size="10.8" dy="-7.6">1</tspan></text><text x="188.8" y="287.5" font-size="15.5" text-anchor="middle">10<tspan font-size="10.8" dy="-7.6">2</tspan></text><text x="301.4" y="287.5" font-size="15.5" text-anchor="middle">10<tspan font-size="10.8" dy="-7.6">3</tspan></text><text x="414.0" y="287.5" font-size="15.5" text-anchor="middle">10<tspan font-size="10.8" dy="-7.6">4</tspan></text><text x="526.6" y="287.5" font-size="15.5" text-anchor="middle">10<tspan font-size="10.8" dy="-7.6">5</tspan></text><text x="639.2" y="287.5" font-size="15.5" text-anchor="middle">10<tspan font-size="10.8" dy="-7.6">6</tspan></text><path d="M52.6 246.5H43.0M52.6 209.1H43.0M52.6 171.7H43.0M52.6 134.4H43.0M52.6 97.0H43.0M52.6 59.6H43.0M697.4 246.7H707.0M697.4 205.4H707.0M697.4 164.1H707.0M697.4 122.9H707.0M697.4 81.6H707.0M697.4 40.3H707.0M76.5 254.4V264.0M189.1 254.4V264.0M301.7 254.4V264.0M414.3 254.4V264.0M526.9 254.4V264.0M639.5 254.4V264.0" stroke="#222" stroke-width="0.95" fill="none"/><text transform="translate(12.9 143.5) rotate(-90)" font-size="14.9" text-anchor="middle">Relative variable fluorescence Vt</text><text transform="translate(748.1 143.6) rotate(-90)" font-size="15" text-anchor="middle">Vt derivative</text><text x="374.8" y="302.0" font-size="15.2" text-anchor="middle">Time [µs]</text><text x="335.6" y="269.2" font-size="12" text-anchor="middle">2 ms</text><text x="468.3" y="269.2" font-size="12" text-anchor="middle">30 ms</text><text x="18.0" y="16.6" font-size="23" text-anchor="start">b</text><path d="M112.8 251.2h0M131.8 249.4h0M145.5 248.2h0M156.2 247.0h0M164.9 245.8h0M172.4 244.4h0M178.8 242.8h0M184.5 241.1h0M189.6 239.3h0M194.2 237.3h0M198.4 235.4h0M202.3 233.4h0M205.9 231.3h0M209.3 229.2h0M302.4 148.4h0M307.0 145.6h0M311.2 143.1h0M315.1 141.1h0M318.7 139.3h0M322.0 137.6h0M434.1 106.7h0M526.9 81.6h0M531.6 80.4h0M535.8 79.4h0M539.7 78.5h0M543.4 77.6h0M546.7 76.7h0" stroke="#2320C8" stroke-width="3.55" stroke-linecap="round" fill="none" opacity="0.6"/><path d="M212.4 227.1h0M215.3 225.1h0M218.1 223.1h0M220.7 221.1h0M223.2 219.2h0M325.1 136.2h0M328.1 134.9h0M330.8 133.9h0M333.5 132.9h0M336.0 132.1h0M437.3 105.5h0M440.2 103.4h0M443.0 100.7h0M445.7 98.4h0M448.2 96.6h0M549.9 75.8h0M552.8 74.9h0M555.6 73.9h0M558.3 73.0h0M560.8 72.0h0" stroke="#2320C8" stroke-width="3.55" stroke-linecap="round" fill="none" opacity="0.7"/><path d="M225.6 217.2h0M227.9 215.3h0M230.0 213.4h0M232.1 211.5h0M234.1 209.7h0M236.0 208.0h0M237.9 206.3h0M239.6 204.7h0M338.3 131.3h0M340.6 130.7h0M342.7 130.1h0M344.8 129.5h0M346.8 129.1h0M348.7 128.6h0M350.5 128.2h0M352.3 127.9h0M450.6 95.2h0M452.9 94.0h0M455.0 92.9h0M457.1 91.9h0M459.1 91.0h0M461.0 90.1h0M462.9 89.2h0M464.6 88.4h0M563.2 71.1h0M565.5 70.2h0M567.6 69.3h0M569.7 68.5h0M571.7 67.7h0M573.6 67.0h0M575.5 66.3h0M577.2 65.7h0" stroke="#2320C8" stroke-width="3.55" stroke-linecap="round" fill="none" opacity="0.8"/><path d="M241.3 203.2h0M243.0 201.7h0M244.6 200.3h0M246.1 198.8h0M247.6 197.4h0M249.1 196.1h0M250.5 194.8h0M251.9 193.5h0M253.2 192.2h0M254.5 191.0h0M255.8 189.8h0M354.0 127.7h0M355.7 127.6h0M357.3 127.5h0M358.8 127.3h0M360.3 127.3h0M361.8 127.2h0M363.2 127.1h0M364.5 127.0h0M365.9 127.0h0M367.2 126.9h0M466.4 87.7h0M468.0 87.2h0M469.6 86.8h0M471.2 86.5h0M472.7 86.2h0M474.1 85.9h0M475.6 85.7h0M476.9 85.4h0M478.3 85.3h0M479.6 85.1h0M480.9 84.9h0M579.0 65.1h0M580.6 64.6h0M582.2 64.1h0M583.8 63.7h0M585.3 63.3h0M586.7 62.9h0M588.2 62.5h0M589.5 62.2h0M590.9 61.8h0M592.2 61.6h0M593.5 61.3h0" stroke="#2320C8" stroke-width="3.55" stroke-linecap="round" fill="none" opacity="0.9"/><path d="M257.0 188.7 258.2 187.5 259.4 186.4 260.5 185.3 261.7 184.3 262.8 183.2 263.8 182.2 264.9 181.2 265.9 180.2 266.9 179.2 267.9 178.3 268.9 177.3 269.8 176.4 270.7 175.5 271.7 174.6 272.6 173.8 273.4 172.9 274.3 172.0 275.1 171.2 276.0 170.4 276.8 169.6M368.4 126.9 369.7 126.8 370.9 126.8 372.1 126.7 373.2 126.6 374.3 126.6 375.4 126.5 376.5 126.5 377.5 126.4 378.6 126.3 379.6 126.2 380.6 126.2 381.5 126.1 382.5 126.0 383.4 125.9 384.3 125.8 385.2 125.7 386.1 125.6 386.9 125.5 387.8 125.4 388.6 125.3 389.4 125.2 390.2 125.1 391.0 125.0 391.8 124.8 392.6 124.7 393.3 124.6 394.1 124.5 394.8 124.4 395.5 124.2 396.3 124.1 397.0 123.9 397.7 123.8 398.3 123.6 399.0 123.5 399.7 123.3 400.3 123.1 401.0 123.0 401.6 122.8 402.2 122.6 402.9 122.4 403.5 122.3 404.1 122.1 404.7 121.9 405.3 121.7 405.9 121.5 406.4 121.3 407.0 121.1 407.6 120.9 408.1 120.7 408.7 120.5 409.2 120.2 409.8 120.0 410.3 119.7 410.8 119.5 411.4 119.2 411.9 118.9 412.4 118.6 412.9 118.4 413.4 118.1 413.9 117.8 414.4 117.5 414.9 117.2 415.3 117.0 415.8 116.7 416.3 116.4 416.8 116.1 417.2 115.9 417.7 115.6 418.1 115.3 418.6 115.1 419.0 114.8 419.5 114.6 419.9 114.3 420.3 114.1 420.8 113.8 421.2 113.6 421.6 113.3 422.0 113.1 422.5 112.8 422.9 112.6 423.3 112.3 423.7 112.1 424.1 111.8 424.5 111.6 424.9 111.3 425.3 111.1 425.7 110.8 426.0 110.6 426.4 110.4 426.8 110.2 427.2 109.9 427.6 109.7 427.9 109.5 428.3 109.3 428.7 109.1 429.0 108.9 429.4 108.7 429.7 108.5 430.1 108.3 430.5 108.2M482.1 84.8 483.3 84.7 484.5 84.5 485.6 84.4 486.8 84.4 487.9 84.3 488.9 84.2 490.0 84.2 491.0 84.1 492.0 84.0 493.0 84.0 494.0 83.9 494.9 83.9 495.9 83.9 496.8 83.8 497.7 83.8 498.5 83.7 499.4 83.7 500.3 83.7 501.1 83.6 501.9 83.6 502.7 83.6 503.5 83.5 504.3 83.5 505.1 83.5 505.8 83.5 506.6 83.5 507.3 83.4 508.0 83.4 508.8 83.4 509.5 83.4 510.2 83.3 510.8 83.3 511.5 83.3 512.2 83.3 512.8 83.2 513.5 83.2 514.1 83.2 514.7 83.2 515.4 83.1 516.0 83.1 516.6 83.1 517.2 83.0 517.8 83.0 518.4 83.0 519.0 82.9 519.5 82.9 520.1 82.9 520.6 82.8 521.2 82.8 521.7 82.7 522.3 82.6M594.7 61.0 595.9 60.8 597.1 60.6 598.2 60.4 599.4 60.2 600.5 60.1 601.5 60.0 602.6 59.9 603.6 59.9 604.6 59.8 605.6 59.7 606.6 59.7 607.5 59.6 608.5 59.6 609.4 59.6 610.3 59.6 611.1 59.6 612.0 59.6 612.9 59.6 613.7 59.6 614.5 59.6 615.3 59.6 616.1 59.7 616.9 59.7 617.7 59.7 618.4 59.7 619.2 59.7 619.9 59.7 620.6 59.7 621.4 59.7 622.1 59.8 622.8 59.8 623.4 59.8 624.1 59.8 624.8 59.8 625.4 59.8 626.1 59.8 626.7 59.8 627.3 59.8 628.0 59.8 628.6 59.9 629.2 59.9 629.8 59.9 630.4 59.9 631.0 59.9 631.6 59.9 632.1 59.9 632.7 59.9 633.2 59.9 633.8 60.0 634.3 60.0 634.9 60.0 635.4 60.0 636.0 60.0 636.5 60.0 637.0 60.0 637.5 60.0 638.0 60.0 638.5 60.1 639.0 60.1 639.5 60.1 640.0 60.1 640.5 60.1 640.9 60.1 641.4 60.1 641.9 60.1 642.3 60.1 642.8 60.2 643.3 60.2 643.7 60.2 644.2 60.2 644.6 60.2 645.0 60.2 645.5 60.2 645.9 60.3 646.3 60.3 646.8 60.3 647.2 60.3 647.6 60.3 648.0 60.3 648.4 60.3 648.8 60.3 649.2 60.4 649.6 60.4 650.0 60.4 650.4 60.4 650.8 60.4 651.2 60.4 651.6 60.4 652.0 60.5 652.3 60.5 652.7 60.5 653.1 60.5 653.4 60.5 653.8 60.5 654.2 60.6 654.5 60.6 654.9 60.6 655.3 60.6 655.6 60.6 656.0 60.6 656.3 60.6 656.6 60.7 657.0 60.7 657.3 60.7 657.7 60.7 658.0 60.7 658.3 60.7 658.7 60.8 659.0 60.8 659.3 60.8 659.7 60.8 660.0 60.8 660.3 60.8 660.6 60.9 660.9 60.9 661.2 60.9 661.6 60.9 661.9 60.9 662.2 60.9 662.5 61.0 662.8 61.0 663.1 61.0 663.4 61.0 663.7 61.0 664.0 61.1 664.3 61.1 664.6 61.1 664.9 61.1 665.2 61.1 665.4 61.2 665.7 61.2 666.0 61.2 666.3 61.2 666.6 61.3 666.9 61.3 667.1 61.3 667.4 61.3 667.7 61.4 668.0 61.4 668.2 61.4 668.5 61.4 668.8 61.5 669.1 61.5 669.3 61.5 669.6 61.5 669.8 61.6 670.1 61.6 670.4 61.6 670.6 61.6 670.9 61.7 671.1 61.7 671.4 61.7 671.7 61.7 671.9 61.8 672.2 61.8 672.4 61.8 672.7 61.8 672.9 61.9 673.2 61.9 673.4 61.9" stroke="#2320C8" stroke-width="3.55" stroke-linecap="round" stroke-linejoin="round" fill="none"/><path d="M112.8 251.2h0M131.8 249.4h0M145.5 248.2h0M156.2 247.0h0M164.9 245.8h0M172.4 244.4h0M178.8 242.8h0M184.5 241.1h0M189.6 239.3h0M194.2 237.3h0M198.4 235.4h0M202.3 233.4h0M205.9 231.3h0M209.3 229.2h0M302.4 152.4h0M307.0 149.9h0M311.2 147.8h0M315.1 145.9h0M318.7 144.2h0M322.0 142.8h0M434.1 107.9h0M526.9 82.9h0M531.6 80.7h0M535.8 78.7h0M539.7 76.7h0M543.4 74.8h0M546.7 72.9h0" stroke="#35A632" stroke-width="3.55" stroke-linecap="round" fill="none" opacity="0.6"/><path d="M212.4 227.1h0M215.3 225.0h0M218.1 223.0h0M220.7 221.2h0M223.2 219.3h0M325.1 141.6h0M328.1 140.5h0M330.8 139.7h0M333.5 139.2h0M336.0 138.7h0M437.3 106.7h0M440.2 104.6h0M443.0 102.0h0M445.7 99.7h0M448.2 98.1h0M549.9 71.3h0M552.8 69.8h0M555.6 68.4h0M558.3 67.1h0M560.8 66.0h0" stroke="#35A632" stroke-width="3.55" stroke-linecap="round" fill="none" opacity="0.7"/><path d="M225.6 217.5h0M227.9 215.7h0M230.0 213.9h0M232.1 212.2h0M234.1 210.6h0M236.0 209.0h0M237.9 207.4h0M239.6 205.9h0M338.3 138.4h0M340.6 138.1h0M342.7 137.9h0M344.8 137.8h0M346.8 137.6h0M348.7 137.5h0M350.5 137.4h0M352.3 137.3h0M450.6 96.7h0M452.9 95.5h0M455.0 94.4h0M457.1 93.5h0M459.1 92.8h0M461.0 92.0h0M462.9 91.4h0M464.6 90.8h0M563.2 65.1h0M565.5 64.3h0M567.6 63.6h0M569.7 63.0h0M571.7 62.5h0M573.6 62.0h0M575.5 61.6h0M577.2 61.2h0" stroke="#35A632" stroke-width="3.55" stroke-linecap="round" fill="none" opacity="0.8"/><path d="M241.3 204.5h0M243.0 203.0h0M244.6 201.6h0M246.1 200.3h0M247.6 198.9h0M249.1 197.6h0M250.5 196.3h0M251.9 195.1h0M253.2 193.9h0M254.5 192.7h0M255.8 191.5h0M354.0 137.2h0M355.7 137.1h0M357.3 137.0h0M358.8 137.0h0M360.3 136.9h0M361.8 136.9h0M363.2 136.9h0M364.5 136.8h0M365.9 136.8h0M367.2 136.7h0M466.4 90.4h0M468.0 90.1h0M469.6 90.0h0M471.2 89.8h0M472.7 89.7h0M474.1 89.7h0M475.6 89.6h0M476.9 89.5h0M478.3 89.5h0M479.6 89.4h0M480.9 89.4h0M579.0 60.9h0M580.6 60.6h0M582.2 60.4h0M583.8 60.2h0M585.3 60.1h0M586.7 60.0h0M588.2 59.9h0M589.5 59.8h0M590.9 59.7h0M592.2 59.7h0M593.5 59.6h0" stroke="#35A632" stroke-width="3.55" stroke-linecap="round" fill="none" opacity="0.9"/><path d="M257.0 190.4 258.2 189.3 259.4 188.2 260.5 187.2 261.7 186.1 262.8 185.1 263.8 184.1 264.9 183.2 265.9 182.2 266.9 181.3 267.9 180.4 268.9 179.5 269.8 178.6 270.7 177.7 271.7 176.8 272.6 176.0 273.4 175.2 274.3 174.3 275.1 173.5 276.0 172.7 276.8 172.0M368.4 136.7 369.7 136.7 370.9 136.6 372.1 136.6 373.2 136.6 374.3 136.5 375.4 136.5 376.5 136.4 377.5 136.4 378.6 136.3 379.6 136.2 380.6 136.2 381.5 136.1 382.5 135.9 383.4 135.8 384.3 135.6 385.2 135.4 386.1 135.2 386.9 135.0 387.8 134.8 388.6 134.6 389.4 134.4 390.2 134.1 391.0 133.9 391.8 133.7 392.6 133.4 393.3 133.2 394.1 133.0 394.8 132.7 395.5 132.5 396.3 132.2 397.0 132.0 397.7 131.7 398.3 131.4 399.0 131.1 399.7 130.8 400.3 130.5 401.0 130.2 401.6 129.9 402.2 129.6 402.9 129.3 403.5 129.0 404.1 128.7 404.7 128.4 405.3 128.0 405.9 127.7 406.4 127.4 407.0 127.1 407.6 126.7 408.1 126.4 408.7 126.0 409.2 125.7 409.8 125.3 410.3 124.9 410.8 124.5 411.4 124.2 411.9 123.8 412.4 123.4 412.9 123.0 413.4 122.6 413.9 122.2 414.4 121.8 414.9 121.4 415.3 121.0 415.8 120.6 416.3 120.2 416.8 119.8 417.2 119.5 417.7 119.1 418.1 118.7 418.6 118.4 419.0 118.0 419.5 117.7 419.9 117.3 420.3 117.0 420.8 116.7 421.2 116.4 421.6 116.0 422.0 115.7 422.5 115.3 422.9 115.0 423.3 114.7 423.7 114.3 424.1 114.0 424.5 113.7 424.9 113.3 425.3 113.0 425.7 112.7 426.0 112.4 426.4 112.1 426.8 111.8 427.2 111.5 427.6 111.2 427.9 111.0 428.3 110.7 428.7 110.5 429.0 110.2 429.4 110.0 429.7 109.8 430.1 109.6 430.5 109.4M482.1 89.3 483.3 89.2 484.5 89.1 485.6 89.0 486.8 88.9 487.9 88.8 488.9 88.6 490.0 88.5 491.0 88.3 492.0 88.1 493.0 88.0 494.0 87.8 494.9 87.7 495.9 87.5 496.8 87.4 497.7 87.3 498.5 87.2 499.4 87.2 500.3 87.1 501.1 87.0 501.9 86.9 502.7 86.9 503.5 86.8 504.3 86.8 505.1 86.7 505.8 86.7 506.6 86.6 507.3 86.6 508.0 86.5 508.8 86.5 509.5 86.4 510.2 86.4 510.8 86.3 511.5 86.3 512.2 86.2 512.8 86.2 513.5 86.1 514.1 86.0 514.7 86.0 515.4 85.9 516.0 85.9 516.6 85.8 517.2 85.7 517.8 85.6 518.4 85.6 519.0 85.5 519.5 85.4 520.1 85.3 520.6 85.2 521.2 85.1 521.7 85.0 522.3 84.8M594.7 59.6 595.9 59.6 597.1 59.6 598.2 59.6 599.4 59.6 600.5 59.6 601.5 59.7 602.6 59.7 603.6 59.7 604.6 59.7 605.6 59.7 606.6 59.7 607.5 59.8 608.5 59.8 609.4 59.8 610.3 59.9 611.1 59.9 612.0 59.9 612.9 60.0 613.7 60.0 614.5 60.1 615.3 60.1 616.1 60.2 616.9 60.2 617.7 60.3 618.4 60.3 619.2 60.4 619.9 60.5 620.6 60.5 621.4 60.6 622.1 60.6 622.8 60.7 623.4 60.7 624.1 60.8 624.8 60.8 625.4 60.9 626.1 60.9 626.7 61.0 627.3 61.0 628.0 61.1 628.6 61.1 629.2 61.2 629.8 61.2 630.4 61.3 631.0 61.4 631.6 61.4 632.1 61.5 632.7 61.5 633.2 61.6 633.8 61.6 634.3 61.7 634.9 61.7 635.4 61.8 636.0 61.8 636.5 61.9 637.0 62.0 637.5 62.0 638.0 62.1 638.5 62.1 639.0 62.2 639.5 62.2 640.0 62.3 640.5 62.3 640.9 62.4 641.4 62.4 641.9 62.5 642.3 62.5 642.8 62.6 643.3 62.6 643.7 62.7 644.2 62.7 644.6 62.8 645.0 62.8 645.5 62.9 645.9 62.9 646.3 62.9 646.8 63.0 647.2 63.0 647.6 63.1 648.0 63.1 648.4 63.2 648.8 63.2 649.2 63.2 649.6 63.3 650.0 63.3 650.4 63.4 650.8 63.4 651.2 63.4 651.6 63.5 652.0 63.5 652.3 63.5 652.7 63.6 653.1 63.6 653.4 63.7 653.8 63.7 654.2 63.7 654.5 63.8 654.9 63.8 655.3 63.8 655.6 63.9 656.0 63.9 656.3 64.0 656.6 64.0 657.0 64.0 657.3 64.1 657.7 64.1 658.0 64.1 658.3 64.2 658.7 64.2 659.0 64.2 659.3 64.3 659.7 64.3 660.0 64.3 660.3 64.4 660.6 64.4 660.9 64.4 661.2 64.5 661.6 64.5 661.9 64.5 662.2 64.6 662.5 64.6 662.8 64.6 663.1 64.6 663.4 64.7 663.7 64.7 664.0 64.7 664.3 64.8 664.6 64.8 664.9 64.8 665.2 64.9 665.4 64.9 665.7 64.9 666.0 64.9 666.3 65.0 666.6 65.0 666.9 65.0 667.1 65.1 667.4 65.1 667.7 65.1 668.0 65.2 668.2 65.2 668.5 65.2 668.8 65.2 669.1 65.3 669.3 65.3 669.6 65.3 669.8 65.3 670.1 65.4 670.4 65.4 670.6 65.4 670.9 65.5 671.1 65.5 671.4 65.5 671.7 65.5 671.9 65.6 672.2 65.6 672.4 65.6 672.7 65.6 672.9 65.7 673.2 65.7 673.4 65.7" stroke="#35A632" stroke-width="3.55" stroke-linecap="round" stroke-linejoin="round" fill="none"/><path d="M112.8 251.2h0M131.8 249.4h0M145.5 248.2h0M156.2 247.0h0M164.9 245.8h0M172.4 244.4h0M178.8 242.8h0M184.5 241.1h0M189.6 239.3h0M194.2 237.3h0M198.4 235.4h0M202.3 233.4h0M205.9 231.2h0M209.3 229.1h0M302.4 158.0h0M307.0 155.2h0M311.2 153.0h0M315.1 151.1h0M318.7 149.5h0M322.0 148.2h0M434.1 109.2h0M526.9 85.5h0M531.6 83.0h0M535.8 80.5h0M539.7 78.0h0M543.4 75.4h0M546.7 72.8h0" stroke="#FFE011" stroke-width="3.55" stroke-linecap="round" fill="none" opacity="0.6"/><path d="M212.4 226.9h0M215.3 224.9h0M218.1 223.0h0M220.7 221.2h0M223.2 219.5h0M325.1 147.1h0M328.1 146.3h0M330.8 145.5h0M333.5 144.9h0M336.0 144.5h0M437.3 108.1h0M440.2 106.1h0M443.0 103.7h0M445.7 101.7h0M448.2 100.5h0M549.9 70.7h0M552.8 68.9h0M555.6 67.3h0M558.3 65.9h0M560.8 64.8h0" stroke="#FFE011" stroke-width="3.55" stroke-linecap="round" fill="none" opacity="0.7"/><path d="M225.6 217.9h0M227.9 216.4h0M230.0 214.9h0M232.1 213.4h0M234.1 212.0h0M236.0 210.6h0M237.9 209.2h0M239.6 207.9h0M338.3 144.1h0M340.6 143.8h0M342.7 143.5h0M344.8 143.2h0M346.8 143.0h0M348.7 142.8h0M350.5 142.6h0M352.3 142.4h0M450.6 99.7h0M452.9 99.1h0M455.0 98.3h0M457.1 97.4h0M459.1 96.5h0M461.0 95.6h0M462.9 94.8h0M464.6 94.2h0M563.2 63.9h0M565.5 63.2h0M567.6 62.5h0M569.7 61.9h0M571.7 61.5h0M573.6 61.1h0M575.5 60.7h0M577.2 60.4h0" stroke="#FFE011" stroke-width="3.55" stroke-linecap="round" fill="none" opacity="0.8"/><path d="M241.3 206.6h0M243.0 205.2h0M244.6 203.9h0M246.1 202.6h0M247.6 201.3h0M249.1 200.1h0M250.5 198.9h0M251.9 197.7h0M253.2 196.5h0M254.5 195.4h0M255.8 194.4h0M354.0 142.2h0M355.7 142.1h0M357.3 141.9h0M358.8 141.8h0M360.3 141.7h0M361.8 141.6h0M363.2 141.5h0M364.5 141.4h0M365.9 141.3h0M367.2 141.2h0M466.4 93.7h0M468.0 93.3h0M469.6 93.1h0M471.2 92.9h0M472.7 92.7h0M474.1 92.6h0M475.6 92.5h0M476.9 92.4h0M478.3 92.3h0M479.6 92.2h0M480.9 92.1h0M579.0 60.2h0M580.6 60.1h0M582.2 59.9h0M583.8 59.8h0M585.3 59.7h0M586.7 59.7h0M588.2 59.6h0M589.5 59.6h0M590.9 59.6h0M592.2 59.6h0M593.5 59.6h0" stroke="#FFE011" stroke-width="3.55" stroke-linecap="round" fill="none" opacity="0.9"/><path d="M257.0 193.3 258.2 192.3 259.4 191.3 260.5 190.4 261.7 189.4 262.8 188.5 263.8 187.6 264.9 186.7 265.9 185.9 266.9 185.0 267.9 184.2 268.9 183.4 269.8 182.6 270.7 181.8 271.7 181.0 272.6 180.3 273.4 179.5 274.3 178.8 275.1 178.1 276.0 177.4 276.8 176.7M368.4 141.1 369.7 141.0 370.9 140.9 372.1 140.8 373.2 140.7 374.3 140.6 375.4 140.5 376.5 140.3 377.5 140.2 378.6 140.1 379.6 140.0 380.6 139.8 381.5 139.7 382.5 139.5 383.4 139.3 384.3 139.1 385.2 138.9 386.1 138.7 386.9 138.5 387.8 138.3 388.6 138.1 389.4 137.8 390.2 137.6 391.0 137.4 391.8 137.1 392.6 136.9 393.3 136.6 394.1 136.4 394.8 136.1 395.5 135.8 396.3 135.5 397.0 135.2 397.7 134.9 398.3 134.6 399.0 134.3 399.7 133.9 400.3 133.6 401.0 133.3 401.6 132.9 402.2 132.6 402.9 132.2 403.5 131.9 404.1 131.5 404.7 131.2 405.3 130.8 405.9 130.5 406.4 130.1 407.0 129.8 407.6 129.4 408.1 129.0 408.7 128.6 409.2 128.3 409.8 127.9 410.3 127.4 410.8 127.0 411.4 126.6 411.9 126.2 412.4 125.8 412.9 125.3 413.4 124.9 413.9 124.5 414.4 124.1 414.9 123.7 415.3 123.2 415.8 122.8 416.3 122.4 416.8 122.0 417.2 121.6 417.7 121.2 418.1 120.8 418.6 120.5 419.0 120.1 419.5 119.7 419.9 119.4 420.3 119.0 420.8 118.6 421.2 118.3 421.6 117.9 422.0 117.5 422.5 117.2 422.9 116.8 423.3 116.4 423.7 116.0 424.1 115.7 424.5 115.3 424.9 115.0 425.3 114.6 425.7 114.3 426.0 113.9 426.4 113.6 426.8 113.3 427.2 112.9 427.6 112.6 427.9 112.4 428.3 112.1 428.7 111.8 429.0 111.6 429.4 111.3 429.7 111.1 430.1 110.9 430.5 110.7M482.1 92.0 483.3 91.9 484.5 91.8 485.6 91.6 486.8 91.5 487.9 91.3 488.9 91.2 490.0 91.0 491.0 90.8 492.0 90.7 493.0 90.5 494.0 90.4 494.9 90.3 495.9 90.1 496.8 90.0 497.7 89.9 498.5 89.8 499.4 89.8 500.3 89.7 501.1 89.6 501.9 89.6 502.7 89.5 503.5 89.5 504.3 89.4 505.1 89.4 505.8 89.3 506.6 89.3 507.3 89.2 508.0 89.2 508.8 89.2 509.5 89.1 510.2 89.1 510.8 89.0 511.5 89.0 512.2 88.9 512.8 88.9 513.5 88.8 514.1 88.8 514.7 88.7 515.4 88.7 516.0 88.6 516.6 88.5 517.2 88.5 517.8 88.4 518.4 88.3 519.0 88.3 519.5 88.2 520.1 88.1 520.6 88.0 521.2 87.9 521.7 87.8 522.3 87.6M594.7 59.6 595.9 59.6 597.1 59.7 598.2 59.7 599.4 59.7 600.5 59.7 601.5 59.7 602.6 59.8 603.6 59.8 604.6 59.9 605.6 59.9 606.6 60.0 607.5 60.1 608.5 60.2 609.4 60.3 610.3 60.4 611.1 60.5 612.0 60.6 612.9 60.7 613.7 60.8 614.5 60.9 615.3 61.0 616.1 61.2 616.9 61.3 617.7 61.4 618.4 61.5 619.2 61.6 619.9 61.6 620.6 61.7 621.4 61.8 622.1 61.9 622.8 62.0 623.4 62.1 624.1 62.2 624.8 62.3 625.4 62.4 626.1 62.5 626.7 62.6 627.3 62.8 628.0 62.9 628.6 63.0 629.2 63.1 629.8 63.2 630.4 63.3 631.0 63.4 631.6 63.5 632.1 63.6 632.7 63.7 633.2 63.8 633.8 63.9 634.3 63.9 634.9 64.0 635.4 64.1 636.0 64.2 636.5 64.3 637.0 64.4 637.5 64.5 638.0 64.6 638.5 64.7 639.0 64.7 639.5 64.8 640.0 64.9 640.5 65.0 640.9 65.0 641.4 65.1 641.9 65.2 642.3 65.3 642.8 65.3 643.3 65.4 643.7 65.5 644.2 65.5 644.6 65.6 645.0 65.7 645.5 65.7 645.9 65.8 646.3 65.8 646.8 65.9 647.2 66.0 647.6 66.0 648.0 66.1 648.4 66.2 648.8 66.2 649.2 66.3 649.6 66.3 650.0 66.4 650.4 66.4 650.8 66.5 651.2 66.6 651.6 66.6 652.0 66.7 652.3 66.7 652.7 66.8 653.1 66.8 653.4 66.9 653.8 66.9 654.2 67.0 654.5 67.0 654.9 67.1 655.3 67.1 655.6 67.2 656.0 67.2 656.3 67.3 656.6 67.3 657.0 67.4 657.3 67.4 657.7 67.5 658.0 67.5 658.3 67.6 658.7 67.6 659.0 67.7 659.3 67.7 659.7 67.8 660.0 67.8 660.3 67.8 660.6 67.9 660.9 67.9 661.2 68.0 661.6 68.0 661.9 68.1 662.2 68.1 662.5 68.1 662.8 68.2 663.1 68.2 663.4 68.3 663.7 68.3 664.0 68.4 664.3 68.4 664.6 68.4 664.9 68.5 665.2 68.5 665.4 68.6 665.7 68.6 666.0 68.6 666.3 68.7 666.6 68.7 666.9 68.7 667.1 68.8 667.4 68.8 667.7 68.9 668.0 68.9 668.2 68.9 668.5 69.0 668.8 69.0 669.1 69.0 669.3 69.1 669.6 69.1 669.8 69.1 670.1 69.2 670.4 69.2 670.6 69.2 670.9 69.3 671.1 69.3 671.4 69.3 671.7 69.4 671.9 69.4 672.2 69.4 672.4 69.5 672.7 69.5 672.9 69.5 673.2 69.6 673.4 69.6" stroke="#FFE011" stroke-width="3.55" stroke-linecap="round" stroke-linejoin="round" fill="none"/><path d="M112.8 251.2h0M131.8 249.4h0M145.5 248.2h0M156.2 247.0h0M164.9 245.8h0M172.4 244.4h0M178.8 242.8h0M184.5 241.1h0M189.6 239.3h0M194.2 237.3h0M198.4 235.4h0M202.3 233.4h0M205.9 231.3h0M209.3 229.2h0M302.4 148.2h0M307.0 145.5h0M311.2 143.2h0M315.1 141.2h0M318.7 139.4h0M322.0 137.8h0M434.1 106.0h0M526.9 81.9h0M531.6 80.2h0M535.8 78.5h0M539.7 76.7h0M543.4 75.0h0M546.7 73.4h0" stroke="#FF8A32" stroke-width="3.55" stroke-linecap="round" fill="none" opacity="0.6"/><path d="M212.4 227.2h0M215.3 225.1h0M218.1 223.1h0M220.7 221.1h0M223.2 219.1h0M325.1 136.5h0M328.1 135.5h0M330.8 134.8h0M333.5 134.1h0M336.0 133.4h0M437.3 104.7h0M440.2 102.6h0M443.0 100.0h0M445.7 97.5h0M448.2 95.4h0M549.9 71.9h0M552.8 70.4h0M555.6 68.9h0M558.3 67.6h0M560.8 66.5h0" stroke="#FF8A32" stroke-width="3.55" stroke-linecap="round" fill="none" opacity="0.7"/><path d="M225.6 217.1h0M227.9 215.1h0M230.0 213.1h0M232.1 211.2h0M234.1 209.3h0M236.0 207.5h0M237.9 205.8h0M239.6 204.1h0M338.3 132.7h0M340.6 132.0h0M342.7 131.4h0M344.8 130.8h0M346.8 130.4h0M348.7 130.0h0M350.5 129.6h0M352.3 129.3h0M450.6 93.4h0M452.9 91.9h0M455.0 91.1h0M457.1 90.5h0M459.1 90.0h0M461.0 89.7h0M462.9 89.3h0M464.6 89.0h0M563.2 65.5h0M565.5 64.6h0M567.6 63.8h0M569.7 63.1h0M571.7 62.5h0M573.6 62.0h0M575.5 61.5h0M577.2 61.0h0" stroke="#FF8A32" stroke-width="3.55" stroke-linecap="round" fill="none" opacity="0.8"/><path d="M241.3 202.6h0M243.0 201.0h0M244.6 199.6h0M246.1 198.1h0M247.6 196.7h0M249.1 195.3h0M250.5 194.0h0M251.9 192.7h0M253.2 191.4h0M254.5 190.2h0M255.8 189.0h0M354.0 129.1h0M355.7 129.0h0M357.3 128.9h0M358.8 128.8h0M360.3 128.8h0M361.8 128.7h0M363.2 128.7h0M364.5 128.6h0M365.9 128.6h0M367.2 128.5h0M466.4 88.8h0M468.0 88.5h0M469.6 88.3h0M471.2 88.1h0M472.7 87.9h0M474.1 87.7h0M475.6 87.5h0M476.9 87.4h0M478.3 87.2h0M479.6 87.1h0M480.9 87.0h0M579.0 60.7h0M580.6 60.4h0M582.2 60.2h0M583.8 60.0h0M585.3 59.9h0M586.7 59.8h0M588.2 59.7h0M589.5 59.6h0M590.9 59.6h0M592.2 59.6h0M593.5 59.6h0" stroke="#FF8A32" stroke-width="3.55" stroke-linecap="round" fill="none" opacity="0.9"/><path d="M257.0 187.8 258.2 186.7 259.4 185.6 260.5 184.5 261.7 183.4 262.8 182.3 263.8 181.3 264.9 180.3 265.9 179.3 266.9 178.3 267.9 177.4 268.9 176.5 269.8 175.6 270.7 174.7 271.7 173.8 272.6 172.9 273.4 172.1 274.3 171.2 275.1 170.4 276.0 169.6 276.8 168.8M368.4 128.5 369.7 128.5 370.9 128.4 372.1 128.4 373.2 128.3 374.3 128.3 375.4 128.2 376.5 128.2 377.5 128.1 378.6 128.0 379.6 127.9 380.6 127.8 381.5 127.7 382.5 127.6 383.4 127.4 384.3 127.2 385.2 127.0 386.1 126.8 386.9 126.6 387.8 126.4 388.6 126.2 389.4 125.9 390.2 125.7 391.0 125.5 391.8 125.2 392.6 125.0 393.3 124.8 394.1 124.6 394.8 124.4 395.5 124.2 396.3 124.0 397.0 123.8 397.7 123.5 398.3 123.3 399.0 123.1 399.7 122.9 400.3 122.7 401.0 122.4 401.6 122.2 402.2 122.0 402.9 121.8 403.5 121.5 404.1 121.3 404.7 121.1 405.3 120.8 405.9 120.6 406.4 120.4 407.0 120.1 407.6 119.9 408.1 119.6 408.7 119.3 409.2 119.1 409.8 118.8 410.3 118.5 410.8 118.3 411.4 118.0 411.9 117.7 412.4 117.4 412.9 117.1 413.4 116.8 413.9 116.6 414.4 116.3 414.9 116.0 415.3 115.7 415.8 115.4 416.3 115.2 416.8 114.9 417.2 114.6 417.7 114.4 418.1 114.1 418.6 113.8 419.0 113.6 419.5 113.3 419.9 113.1 420.3 112.9 420.8 112.6 421.2 112.4 421.6 112.2 422.0 111.9 422.5 111.7 422.9 111.5 423.3 111.2 423.7 111.0 424.1 110.8 424.5 110.5 424.9 110.3 425.3 110.1 425.7 109.9 426.0 109.6 426.4 109.4 426.8 109.2 427.2 109.0 427.6 108.8 427.9 108.6 428.3 108.4 428.7 108.2 429.0 108.0 429.4 107.9 429.7 107.7 430.1 107.5 430.5 107.4M482.1 86.8 483.3 86.7 484.5 86.6 485.6 86.4 486.8 86.3 487.9 86.2 488.9 86.0 490.0 85.9 491.0 85.8 492.0 85.7 493.0 85.6 494.0 85.5 494.9 85.4 495.9 85.3 496.8 85.2 497.7 85.1 498.5 85.1 499.4 85.0 500.3 85.0 501.1 84.9 501.9 84.9 502.7 84.8 503.5 84.8 504.3 84.7 505.1 84.7 505.8 84.7 506.6 84.6 507.3 84.6 508.0 84.6 508.8 84.5 509.5 84.5 510.2 84.4 510.8 84.4 511.5 84.4 512.2 84.3 512.8 84.3 513.5 84.3 514.1 84.2 514.7 84.2 515.4 84.1 516.0 84.1 516.6 84.0 517.2 84.0 517.8 83.9 518.4 83.9 519.0 83.8 519.5 83.7 520.1 83.7 520.6 83.6 521.2 83.5 521.7 83.5 522.3 83.3M594.7 59.6 595.9 59.6 597.1 59.6 598.2 59.7 599.4 59.7 600.5 59.7 601.5 59.7 602.6 59.7 603.6 59.8 604.6 59.8 605.6 59.8 606.6 59.9 607.5 59.9 608.5 60.0 609.4 60.0 610.3 60.1 611.1 60.2 612.0 60.2 612.9 60.3 613.7 60.4 614.5 60.4 615.3 60.5 616.1 60.6 616.9 60.7 617.7 60.7 618.4 60.8 619.2 60.9 619.9 61.0 620.6 61.0 621.4 61.1 622.1 61.2 622.8 61.2 623.4 61.3 624.1 61.4 624.8 61.4 625.4 61.5 626.1 61.6 626.7 61.7 627.3 61.7 628.0 61.8 628.6 61.9 629.2 62.0 629.8 62.0 630.4 62.1 631.0 62.2 631.6 62.3 632.1 62.3 632.7 62.4 633.2 62.5 633.8 62.5 634.3 62.6 634.9 62.7 635.4 62.8 636.0 62.8 636.5 62.9 637.0 63.0 637.5 63.0 638.0 63.1 638.5 63.2 639.0 63.2 639.5 63.3 640.0 63.3 640.5 63.4 640.9 63.5 641.4 63.5 641.9 63.6 642.3 63.6 642.8 63.7 643.3 63.7 643.7 63.8 644.2 63.8 644.6 63.9 645.0 63.9 645.5 64.0 645.9 64.0 646.3 64.1 646.8 64.1 647.2 64.2 647.6 64.2 648.0 64.3 648.4 64.3 648.8 64.4 649.2 64.4 649.6 64.5 650.0 64.5 650.4 64.6 650.8 64.6 651.2 64.7 651.6 64.7 652.0 64.7 652.3 64.8 652.7 64.8 653.1 64.9 653.4 64.9 653.8 65.0 654.2 65.0 654.5 65.0 654.9 65.1 655.3 65.1 655.6 65.2 656.0 65.2 656.3 65.2 656.6 65.3 657.0 65.3 657.3 65.4 657.7 65.4 658.0 65.4 658.3 65.5 658.7 65.5 659.0 65.5 659.3 65.6 659.7 65.6 660.0 65.6 660.3 65.7 660.6 65.7 660.9 65.8 661.2 65.8 661.6 65.8 661.9 65.9 662.2 65.9 662.5 65.9 662.8 66.0 663.1 66.0 663.4 66.0 663.7 66.1 664.0 66.1 664.3 66.1 664.6 66.2 664.9 66.2 665.2 66.2 665.4 66.3 665.7 66.3 666.0 66.3 666.3 66.3 666.6 66.4 666.9 66.4 667.1 66.4 667.4 66.5 667.7 66.5 668.0 66.5 668.2 66.6 668.5 66.6 668.8 66.6 669.1 66.6 669.3 66.7 669.6 66.7 669.8 66.7 670.1 66.8 670.4 66.8 670.6 66.8 670.9 66.8 671.1 66.9 671.4 66.9 671.7 66.9 671.9 67.0 672.2 67.0 672.4 67.0 672.7 67.0 672.9 67.1 673.2 67.1 673.4 67.1" stroke="#FF8A32" stroke-width="3.55" stroke-linecap="round" stroke-linejoin="round" fill="none"/><path d="M112.8 251.2h0M131.8 249.4h0M145.5 248.2h0M156.2 247.0h0M164.9 245.8h0M172.4 244.4h0M178.8 242.8h0M184.5 241.1h0M189.6 239.3h0M194.2 237.3h0M198.4 235.4h0M202.3 233.4h0M205.9 231.3h0M209.3 229.3h0M302.4 148.0h0M307.0 145.2h0M311.2 142.8h0M315.1 140.6h0M318.7 138.6h0M322.0 136.8h0M434.1 106.0h0M526.9 80.4h0M531.6 79.5h0M535.8 78.7h0M539.7 77.9h0M543.4 77.1h0M546.7 76.3h0" stroke="#BE2031" stroke-width="3.55" stroke-linecap="round" fill="none" opacity="0.6"/><path d="M212.4 227.2h0M215.3 225.1h0M218.1 223.1h0M220.7 221.1h0M223.2 219.1h0M325.1 135.2h0M328.1 133.8h0M330.8 132.6h0M333.5 131.5h0M336.0 130.6h0M437.3 104.7h0M440.2 102.5h0M443.0 99.8h0M445.7 97.2h0M448.2 95.4h0M549.9 75.4h0M552.8 74.6h0M555.6 73.6h0M558.3 72.7h0M560.8 71.8h0" stroke="#BE2031" stroke-width="3.55" stroke-linecap="round" fill="none" opacity="0.7"/><path d="M225.6 217.1h0M227.9 215.0h0M230.0 213.0h0M232.1 211.1h0M234.1 209.2h0M236.0 207.4h0M237.9 205.6h0M239.6 203.9h0M338.3 129.8h0M340.6 129.2h0M342.7 128.7h0M344.8 128.3h0M346.8 127.9h0M348.7 127.5h0M350.5 127.1h0M352.3 126.7h0M450.6 93.8h0M452.9 92.3h0M455.0 91.1h0M457.1 89.9h0M459.1 89.0h0M461.0 88.1h0M462.9 87.4h0M464.6 86.8h0M563.2 70.9h0M565.5 70.0h0M567.6 69.1h0M569.7 68.3h0M571.7 67.5h0M573.6 66.8h0M575.5 66.1h0M577.2 65.5h0" stroke="#BE2031" stroke-width="3.55" stroke-linecap="round" fill="none" opacity="0.8"/><path d="M241.3 202.4h0M243.0 200.8h0M244.6 199.3h0M246.1 197.9h0M247.6 196.4h0M249.1 195.1h0M250.5 193.7h0M251.9 192.4h0M253.2 191.1h0M254.5 189.9h0M255.8 188.7h0M354.0 126.5h0M355.7 126.4h0M357.3 126.3h0M358.8 126.1h0M360.3 126.1h0M361.8 126.0h0M363.2 125.9h0M364.5 125.8h0M365.9 125.8h0M367.2 125.7h0M466.4 86.2h0M468.0 85.7h0M469.6 85.3h0M471.2 84.8h0M472.7 84.4h0M474.1 84.0h0M475.6 83.7h0M476.9 83.3h0M478.3 83.1h0M479.6 82.8h0M480.9 82.6h0M579.0 64.9h0M580.6 64.4h0M582.2 63.9h0M583.8 63.5h0M585.3 63.1h0M586.7 62.7h0M588.2 62.3h0M589.5 62.0h0M590.9 61.7h0M592.2 61.4h0M593.5 61.1h0" stroke="#BE2031" stroke-width="3.55" stroke-linecap="round" fill="none" opacity="0.9"/><path d="M257.0 187.5 258.2 186.4 259.4 185.3 260.5 184.2 261.7 183.1 262.8 182.1 263.8 181.1 264.9 180.1 265.9 179.1 266.9 178.2 267.9 177.2 268.9 176.3 269.8 175.4 270.7 174.5 271.7 173.7 272.6 172.8 273.4 172.0 274.3 171.1 275.1 170.3 276.0 169.5 276.8 168.8M368.4 125.7 369.7 125.6 370.9 125.6 372.1 125.5 373.2 125.5 374.3 125.4 375.4 125.3 376.5 125.3 377.5 125.2 378.6 125.1 379.6 125.0 380.6 125.0 381.5 124.9 382.5 124.8 383.4 124.7 384.3 124.6 385.2 124.5 386.1 124.3 386.9 124.2 387.8 124.1 388.6 124.0 389.4 123.9 390.2 123.7 391.0 123.6 391.8 123.5 392.6 123.3 393.3 123.2 394.1 123.1 394.8 122.9 395.5 122.8 396.3 122.6 397.0 122.4 397.7 122.2 398.3 122.0 399.0 121.8 399.7 121.6 400.3 121.4 401.0 121.2 401.6 121.0 402.2 120.8 402.9 120.6 403.5 120.4 404.1 120.2 404.7 120.0 405.3 119.8 405.9 119.5 406.4 119.3 407.0 119.1 407.6 118.9 408.1 118.7 408.7 118.4 409.2 118.2 409.8 117.9 410.3 117.7 410.8 117.4 411.4 117.2 411.9 116.9 412.4 116.6 412.9 116.4 413.4 116.1 413.9 115.8 414.4 115.6 414.9 115.3 415.3 115.0 415.8 114.8 416.3 114.5 416.8 114.3 417.2 114.0 417.7 113.8 418.1 113.5 418.6 113.3 419.0 113.0 419.5 112.8 419.9 112.6 420.3 112.4 420.8 112.2 421.2 111.9 421.6 111.7 422.0 111.5 422.5 111.3 422.9 111.1 423.3 110.9 423.7 110.7 424.1 110.5 424.5 110.3 424.9 110.1 425.3 109.9 425.7 109.7 426.0 109.5 426.4 109.3 426.8 109.1 427.2 108.9 427.6 108.7 427.9 108.5 428.3 108.3 428.7 108.2 429.0 108.0 429.4 107.8 429.7 107.7 430.1 107.5 430.5 107.4M482.1 82.4 483.3 82.2 484.5 82.1 485.6 82.1 486.8 82.0 487.9 82.0 488.9 81.9 490.0 81.9 491.0 81.9 492.0 81.8 493.0 81.8 494.0 81.8 494.9 81.8 495.9 81.7 496.8 81.7 497.7 81.7 498.5 81.7 499.4 81.6 500.3 81.6 501.1 81.6 501.9 81.6 502.7 81.6 503.5 81.6 504.3 81.6 505.1 81.5 505.8 81.5 506.6 81.5 507.3 81.5 508.0 81.5 508.8 81.5 509.5 81.5 510.2 81.5 510.8 81.5 511.5 81.5 512.2 81.4 512.8 81.4 513.5 81.4 514.1 81.4 514.7 81.4 515.4 81.4 516.0 81.4 516.6 81.3 517.2 81.3 517.8 81.3 518.4 81.3 519.0 81.3 519.5 81.2 520.1 81.2 520.6 81.2 521.2 81.2 521.7 81.1 522.3 81.1M594.7 60.9 595.9 60.6 597.1 60.4 598.2 60.2 599.4 60.1 600.5 60.0 601.5 59.9 602.6 59.8 603.6 59.7 604.6 59.7 605.6 59.6 606.6 59.6 607.5 59.6 608.5 59.6 609.4 59.6 610.3 59.6 611.1 59.6 612.0 59.6 612.9 59.6 613.7 59.6 614.5 59.7 615.3 59.7 616.1 59.7 616.9 59.7 617.7 59.7 618.4 59.7 619.2 59.7 619.9 59.7 620.6 59.8 621.4 59.8 622.1 59.8 622.8 59.8 623.4 59.8 624.1 59.9 624.8 59.9 625.4 59.9 626.1 60.0 626.7 60.0 627.3 60.0 628.0 60.1 628.6 60.1 629.2 60.1 629.8 60.2 630.4 60.2 631.0 60.2 631.6 60.3 632.1 60.3 632.7 60.3 633.2 60.4 633.8 60.4 634.3 60.4 634.9 60.5 635.4 60.5 636.0 60.5 636.5 60.6 637.0 60.6 637.5 60.6 638.0 60.7 638.5 60.7 639.0 60.7 639.5 60.8 640.0 60.8 640.5 60.8 640.9 60.9 641.4 60.9 641.9 60.9 642.3 60.9 642.8 61.0 643.3 61.0 643.7 61.0 644.2 61.1 644.6 61.1 645.0 61.1 645.5 61.2 645.9 61.2 646.3 61.2 646.8 61.3 647.2 61.3 647.6 61.3 648.0 61.4 648.4 61.4 648.8 61.4 649.2 61.5 649.6 61.5 650.0 61.5 650.4 61.6 650.8 61.6 651.2 61.6 651.6 61.7 652.0 61.7 652.3 61.7 652.7 61.8 653.1 61.8 653.4 61.8 653.8 61.9 654.2 61.9 654.5 61.9 654.9 62.0 655.3 62.0 655.6 62.0 656.0 62.1 656.3 62.1 656.6 62.1 657.0 62.2 657.3 62.2 657.7 62.3 658.0 62.3 658.3 62.3 658.7 62.4 659.0 62.4 659.3 62.4 659.7 62.5 660.0 62.5 660.3 62.5 660.6 62.6 660.9 62.6 661.2 62.7 661.6 62.7 661.9 62.7 662.2 62.8 662.5 62.8 662.8 62.9 663.1 62.9 663.4 63.0 663.7 63.0 664.0 63.0 664.3 63.1 664.6 63.1 664.9 63.2 665.2 63.2 665.4 63.3 665.7 63.3 666.0 63.4 666.3 63.4 666.6 63.5 666.9 63.5 667.1 63.6 667.4 63.6 667.7 63.7 668.0 63.7 668.2 63.8 668.5 63.8 668.8 63.9 669.1 63.9 669.3 64.0 669.6 64.0 669.8 64.1 670.1 64.1 670.4 64.1 670.6 64.2 670.9 64.2 671.1 64.3 671.4 64.3 671.7 64.4 671.9 64.4 672.2 64.5 672.4 64.5 672.7 64.6 672.9 64.6 673.2 64.7 673.4 64.7" stroke="#BE2031" stroke-width="3.55" stroke-linecap="round" stroke-linejoin="round" fill="none"/><circle cx="345.4" cy="129.4" r="3.75" fill="#fff" stroke="#2320C8" stroke-width="0.95"/><circle cx="331.6" cy="139.6" r="3.75" fill="#fff" stroke="#35A632" stroke-width="0.95"/><circle cx="325.6" cy="146.8" r="3.75" fill="#fff" stroke="#FFE011" stroke-width="0.95"/><circle cx="336.8" cy="133.2" r="3.75" fill="#fff" stroke="#FF8A32" stroke-width="0.95"/><circle cx="339.7" cy="129.4" r="3.75" fill="#fff" stroke="#BE2031" stroke-width="0.95"/><circle cx="460.6" cy="90.6" r="3.75" fill="#fff" stroke="#2320C8" stroke-width="0.95"/><circle cx="459.0" cy="92.8" r="3.75" fill="#fff" stroke="#35A632" stroke-width="0.95"/><circle cx="453.6" cy="98.8" r="3.75" fill="#fff" stroke="#FFE011" stroke-width="0.95"/><circle cx="453.6" cy="91.6" r="3.75" fill="#fff" stroke="#FF8A32" stroke-width="0.95"/><circle cx="460.4" cy="88.4" r="3.75" fill="#fff" stroke="#BE2031" stroke-width="0.95"/><circle cx="609.7" cy="59.6" r="3.75" fill="#fff" stroke="#2320C8" stroke-width="0.95"/><circle cx="595.0" cy="59.6" r="3.75" fill="#fff" stroke="#35A632" stroke-width="0.95"/><circle cx="589.7" cy="59.6" r="3.75" fill="#fff" stroke="#FFE011" stroke-width="0.95"/><circle cx="591.6" cy="59.6" r="3.75" fill="#fff" stroke="#FF8A32" stroke-width="0.95"/><circle cx="608.0" cy="59.6" r="3.75" fill="#fff" stroke="#BE2031" stroke-width="0.95"/><path d="M76.4 243.5 77.4 243.4 78.4 243.3 79.4 243.2 80.4 243.1 81.4 243.0 82.4 242.9 83.4 242.8 84.4 242.7 85.4 242.6 86.4 242.5 87.4 242.4 88.4 242.3 89.4 242.2 90.4 242.1 91.4 242.0 92.4 241.9 93.4 241.9 94.4 241.8 95.4 241.7 96.4 241.6 97.4 241.5 98.4 241.4 99.4 241.3 100.4 241.2 101.4 241.1 102.4 241.0 103.4 240.9 104.4 240.8 105.4 240.7 106.4 240.7 107.4 240.6 108.4 240.5 109.4 240.4 110.4 240.3 111.4 240.2 112.4 240.2 113.4 240.1 114.4 240.0 115.4 239.9 116.4 239.9 117.4 239.8 118.4 239.7 119.4 239.7 120.4 239.6 121.4 239.5 122.4 239.5 123.4 239.4 124.4 239.3 125.4 239.3 126.4 239.2 127.4 239.2 128.4 239.1 129.4 239.1 130.4 239.0 131.4 239.0 132.4 238.9 133.4 238.9 134.4 238.8 135.4 238.8 136.4 238.7 137.4 238.7 138.4 238.7 139.4 238.6 140.4 238.6 141.4 238.5 142.4 238.5 143.4 238.5 144.4 238.4 145.4 238.4 146.4 238.4 147.4 238.3 148.4 238.3 149.4 238.2 150.4 238.2 151.4 238.1 152.4 238.1 153.4 238.0 154.4 238.0 155.4 237.9 156.4 237.8 157.4 237.8 158.4 237.7 159.4 237.6 160.4 237.4 161.4 237.3 162.4 237.2 163.4 237.0 164.4 236.8 165.4 236.6 166.4 236.4 167.4 236.2 168.4 236.0 169.4 235.7 170.4 235.4 171.4 235.1 172.4 234.8 173.4 234.5 174.4 234.2 175.4 233.8 176.4 233.5 177.4 233.2 178.4 232.8 179.4 232.4 180.4 232.0 181.4 231.6 182.4 231.1 183.4 230.6 184.4 230.1 185.4 229.5 186.4 228.9 187.4 228.4 188.4 227.7 189.4 227.1 190.4 226.5 191.4 225.8 192.4 225.2 193.4 224.6 194.4 223.9 195.4 223.2 196.4 222.6 197.4 221.9 198.4 221.2 199.4 220.5 200.4 219.8 201.4 219.1 202.4 218.4 203.4 217.7 204.4 216.9 205.4 216.2 206.4 215.4 207.4 214.7 208.4 213.9 209.4 213.2 210.4 212.4 211.4 211.6 212.4 210.8 213.4 210.1 214.4 209.3 215.4 208.5 216.4 207.8 217.4 207.0 218.4 206.2 219.4 205.5 220.4 204.8 221.4 204.0 222.4 203.3 223.4 202.6 224.4 202.0 225.4 201.3 226.4 200.6 227.4 200.0 228.4 199.4 229.4 198.8 230.4 198.2 231.4 197.6 232.4 196.9 233.4 196.2 234.4 195.5 235.4 194.8 236.4 194.0 237.4 193.1 238.4 192.3 239.4 191.4 240.4 190.6 241.4 189.8 242.4 189.1 243.4 188.5 244.4 188.0 245.4 187.6 246.4 187.3 247.4 187.0 248.4 186.9 249.4 186.8 250.4 186.8 251.4 186.8 252.4 186.9 253.4 187.0 254.4 187.1 255.4 187.3 256.4 187.4 257.4 187.5 258.4 187.7 259.4 187.9 260.4 188.0 261.4 188.2 262.4 188.4 263.4 188.6 264.4 188.8 265.4 188.9 266.4 189.1 267.4 189.3 268.4 189.5 269.4 189.7 270.4 189.9 271.4 190.1 272.4 190.2 273.4 190.4 274.4 190.6 275.4 190.8 276.4 191.0 277.4 191.2 278.4 191.5 279.4 191.7 280.4 192.0 281.4 192.2 282.4 192.5 283.4 192.8 284.4 193.1 285.4 193.4 286.4 193.8 287.4 194.2 288.4 194.6 289.4 195.0 290.4 195.5 291.4 196.0 292.4 196.5 293.4 197.0 294.4 197.6 295.4 198.2 296.4 198.8 297.4 199.4 298.4 200.1 299.4 200.7 300.4 201.3 301.4 201.9 302.4 202.5 303.4 203.0 304.4 203.6 305.4 204.1 306.4 204.5 307.4 205.0 308.4 205.4 309.4 205.8 310.4 206.1 311.4 206.5 312.4 206.9 313.4 207.3 314.4 207.6 315.4 208.0 316.4 208.5 317.4 208.9 318.4 209.4 319.4 209.9 320.4 210.4 321.4 210.9 322.4 211.5 323.4 212.1 324.4 212.7 325.4 213.4 326.4 214.1 327.4 214.8 328.4 215.5 329.4 216.3 330.4 217.0 331.4 217.8 332.4 218.6 333.4 219.5 334.4 220.3 335.4 221.1 336.4 221.9 337.4 222.8 338.4 223.6 339.4 224.4 340.4 225.3 341.4 226.1 342.4 226.9 343.4 227.7 344.4 228.5 345.4 229.3 346.4 230.1 347.4 231.0 348.4 231.8 349.4 232.6 350.4 233.4 351.4 234.3 352.4 235.1 353.4 235.9 354.4 236.7 355.4 237.5 356.4 238.3 357.4 239.1 358.4 239.8 359.4 240.5 360.4 241.2 361.4 241.9 362.4 242.5 363.4 243.1 364.4 243.6 365.4 244.1 366.4 244.6 367.4 245.0 368.4 245.3 369.4 245.6 370.4 245.8 371.4 246.0 372.4 246.2 373.4 246.3 374.4 246.4 375.4 246.5 376.4 246.5 377.4 246.5 378.4 246.5 379.4 246.4 380.4 246.3 381.4 246.1 382.4 245.8 383.4 245.5 384.4 245.1 385.4 244.6 386.4 244.0 387.4 243.4 388.4 242.6 389.4 241.9 390.4 241.1 391.4 240.1 392.4 239.5 393.4 238.5 394.4 237.9 395.4 236.9 396.4 236.6 397.4 235.6 398.4 234.9 399.4 234.2 400.4 233.0 401.4 232.0 402.4 231.6 403.4 231.0 404.4 230.0 405.4 229.3 406.4 228.4 407.4 226.7 408.4 226.2 409.4 225.6 410.4 223.8 411.4 222.1 412.4 221.5 413.4 220.2 414.4 219.3 415.4 217.5 416.4 216.5 417.4 214.3 418.4 214.1 419.4 213.0 420.4 211.5 421.4 209.0 422.4 208.4 423.4 205.7 424.4 206.1 425.4 204.9 426.4 203.6 427.4 203.6 428.4 202.9 429.4 203.0 430.4 202.3 431.4 202.1 432.4 202.0 433.4 202.1 434.4 202.2 435.4 202.4 436.4 202.6 437.4 202.9 438.4 203.2 439.4 203.5 440.4 203.9 441.4 204.3 442.4 204.8 443.4 205.2 444.4 205.7 445.4 206.2 446.4 206.8 447.4 207.4 448.4 208.0 449.4 208.7 450.4 209.4 451.4 210.1 452.4 210.9 453.4 211.7 454.4 212.6 455.4 213.5 456.4 214.5 457.4 215.5 458.4 216.5 459.4 217.5 460.4 218.5 461.4 219.6 462.4 220.6 463.4 221.6 464.4 222.7 465.4 223.7 466.4 224.6 467.4 225.6 468.4 226.5 469.4 227.4 470.4 228.3 471.4 229.1 472.4 230.0 473.4 230.8 474.4 231.5 475.4 232.3 476.4 233.0 477.4 233.7 478.4 234.3 479.4 235.0 480.4 235.6 481.4 236.2 482.4 236.8 483.4 237.3 484.4 237.9 485.4 238.4 486.4 238.9 487.4 239.3 488.4 239.8 489.4 240.2 490.4 240.7 491.4 241.0 492.4 241.4 493.4 241.8 494.4 242.1 495.4 242.4 496.4 242.7 497.4 242.9 498.4 242.9 499.4 243.3 500.4 243.4 501.4 243.4 502.4 243.6 503.4 243.9 504.4 244.1 505.4 243.7 506.4 244.0 507.4 244.0 508.4 243.3 509.4 243.4 510.4 243.3 511.4 243.2 512.4 242.4 513.4 242.6 514.4 242.9 515.4 242.7 516.4 242.8 517.4 241.7 518.4 242.4 519.4 241.6 520.4 240.5 521.4 241.3 522.4 240.5 523.4 240.5 524.4 240.3 525.4 240.0 526.4 239.8 527.4 239.6 528.4 239.3 529.4 239.0 530.4 238.7 531.4 238.4 532.4 238.1 533.4 237.7 534.4 237.2 535.4 236.8 536.4 236.3 537.4 235.8 538.4 235.2 539.4 234.6 540.4 233.9 541.4 233.2 542.4 232.5 543.4 231.7 544.4 230.9 545.4 230.0 546.4 229.0 547.4 228.1 548.4 227.1 549.4 226.1 550.4 225.1 551.4 224.2 552.4 223.2 553.4 222.3 554.4 221.4 555.4 220.6 556.4 219.7 557.4 219.0 558.4 218.3 559.4 217.6 560.4 217.1 561.4 216.6 562.4 216.2 563.4 215.9 564.4 215.8 565.4 215.9 566.4 216.1 567.4 216.4 568.4 216.9 569.4 217.4 570.4 217.9 571.4 218.5 572.4 219.1 573.4 219.8 574.4 220.5 575.4 221.4 576.4 222.3 577.4 223.3 578.4 224.4 579.4 225.4 580.4 226.5 581.4 227.6 582.4 228.6 583.4 229.6 584.4 230.5 585.4 231.5 586.4 232.3 587.4 233.2 588.4 234.0 589.4 234.7 590.4 235.5 591.4 236.2 592.4 236.9 593.4 237.5 594.4 238.2 595.4 238.8 596.4 239.3 597.4 239.9 598.4 240.4 599.4 241.0 600.4 241.4 601.4 241.8 602.4 242.3 603.4 242.9 604.4 243.2 605.4 243.5 606.4 244.0 607.4 244.3 608.4 244.7 609.4 244.9 610.4 245.1 611.4 245.5 612.4 245.9 613.4 246.3 614.4 246.7 615.4 246.4 616.4 246.7 617.4 247.0 618.4 247.2 619.4 247.6 620.4 247.8 621.4 247.9 622.4 248.4 623.4 248.2 624.4 248.1 625.4 248.1 626.4 248.4 627.4 248.6 628.4 248.4 629.4 249.5 630.4 249.5 631.4 249.5 632.4 249.4 633.4 249.3 634.4 249.7 635.4 251.1 636.4 249.4 637.4 250.6 638.4 251.0 639.4 250.8 640.4 250.7 641.4 251.3 642.4 250.4 643.4 251.4 644.4 251.9 645.4 250.6 646.4 250.7 647.4 251.3 648.4 251.8 649.4 252.0 650.4 251.6 651.4 250.7 652.4 250.3 653.4 251.1 654.4 251.1 655.4 250.0 656.4 250.7 657.4 250.7 658.4 251.1 659.4 249.4 660.4 250.4 661.4 248.9 662.4 249.2 663.4 249.2 664.4 250.2 665.4 251.4 666.4 248.7 667.4 248.6 668.4 248.7 669.4 246.4 670.4 247.9 671.4 245.8 672.4 248.0 673.4 247.6" stroke="#2320C8" stroke-width="3.6" stroke-linecap="round" stroke-linejoin="round" fill="none"/><line x1="254.85" y1="58.6" x2="254.85" y2="247.3" stroke="#2320C8" stroke-width="1.80"/><line x1="434.90" y1="58.6" x2="434.90" y2="247.3" stroke="#2320C8" stroke-width="1.80"/><line x1="565.50" y1="58.6" x2="565.50" y2="247.3" stroke="#2320C8" stroke-width="1.80"/><line x1="373.60" y1="60.4" x2="373.60" y2="246.4" stroke="#2320C8" stroke-width="1.80" stroke-linecap="round" stroke-dasharray="6.20 6.80"/><line x1="506.80" y1="60.4" x2="506.80" y2="246.4" stroke="#2320C8" stroke-width="1.80" stroke-linecap="round" stroke-dasharray="6.20 6.80"/><path d="M76.4 243.5 77.4 243.4 78.4 243.3 79.4 243.2 80.4 243.1 81.4 243.0 82.4 242.9 83.4 242.8 84.4 242.7 85.4 242.6 86.4 242.5 87.4 242.4 88.4 242.3 89.4 242.2 90.4 242.1 91.4 242.0 92.4 241.9 93.4 241.9 94.4 241.8 95.4 241.7 96.4 241.6 97.4 241.5 98.4 241.4 99.4 241.3 100.4 241.2 101.4 241.1 102.4 241.0 103.4 240.9 104.4 240.8 105.4 240.7 106.4 240.7 107.4 240.6 108.4 240.5 109.4 240.4 110.4 240.3 111.4 240.2 112.4 240.2 113.4 240.1 114.4 240.0 115.4 240.0 116.4 239.9 117.4 239.8 118.4 239.8 119.4 239.7 120.4 239.6 121.4 239.6 122.4 239.5 123.4 239.5 124.4 239.4 125.4 239.4 126.4 239.3 127.4 239.2 128.4 239.2 129.4 239.1 130.4 239.1 131.4 239.0 132.4 239.0 133.4 238.9 134.4 238.8 135.4 238.8 136.4 238.7 137.4 238.7 138.4 238.6 139.4 238.5 140.4 238.5 141.4 238.4 142.4 238.4 143.4 238.3 144.4 238.3 145.4 238.3 146.4 238.2 147.4 238.2 148.4 238.2 149.4 238.2 150.4 238.2 151.4 238.2 152.4 238.2 153.4 238.3 154.4 238.3 155.4 238.3 156.4 238.2 157.4 238.2 158.4 238.1 159.4 238.0 160.4 237.9 161.4 237.7 162.4 237.5 163.4 237.2 164.4 237.0 165.4 236.7 166.4 236.3 167.4 236.0 168.4 235.7 169.4 235.3 170.4 235.0 171.4 234.6 172.4 234.3 173.4 233.9 174.4 233.5 175.4 233.1 176.4 232.6 177.4 232.1 178.4 231.6 179.4 231.0 180.4 230.5 181.4 229.9 182.4 229.2 183.4 228.6 184.4 228.0 185.4 227.3 186.4 226.7 187.4 226.0 188.4 225.4 189.4 224.7 190.4 224.1 191.4 223.4 192.4 222.7 193.4 222.0 194.4 221.3 195.4 220.6 196.4 219.9 197.4 219.2 198.4 218.4 199.4 217.7 200.4 216.9 201.4 216.2 202.4 215.4 203.4 214.7 204.4 213.9 205.4 213.1 206.4 212.3 207.4 211.6 208.4 210.8 209.4 210.0 210.4 209.2 211.4 208.5 212.4 207.7 213.4 207.0 214.4 206.3 215.4 205.6 216.4 204.9 217.4 204.2 218.4 203.5 219.4 202.8 220.4 202.1 221.4 201.4 222.4 200.7 223.4 200.0 224.4 199.3 225.4 198.7 226.4 198.0 227.4 197.4 228.4 196.7 229.4 196.1 230.4 195.6 231.4 195.0 232.4 194.5 233.4 194.1 234.4 193.6 235.4 193.2 236.4 192.9 237.4 192.5 238.4 192.2 239.4 191.9 240.4 191.6 241.4 191.3 242.4 191.1 243.4 190.9 244.4 190.7 245.4 190.6 246.4 190.4 247.4 190.3 248.4 190.3 249.4 190.2 250.4 190.2 251.4 190.2 252.4 190.2 253.4 190.3 254.4 190.3 255.4 190.5 256.4 190.6 257.4 190.7 258.4 190.9 259.4 191.1 260.4 191.3 261.4 191.5 262.4 191.7 263.4 191.9 264.4 192.2 265.4 192.4 266.4 192.6 267.4 192.9 268.4 193.2 269.4 193.4 270.4 193.7 271.4 194.0 272.4 194.3 273.4 194.6 274.4 194.9 275.4 195.2 276.4 195.6 277.4 196.0 278.4 196.4 279.4 196.8 280.4 197.3 281.4 197.8 282.4 198.3 283.4 198.8 284.4 199.4 285.4 200.0 286.4 200.6 287.4 201.2 288.4 201.9 289.4 202.5 290.4 203.1 291.4 203.7 292.4 204.3 293.4 204.8 294.4 205.4 295.4 205.9 296.4 206.3 297.4 206.8 298.4 207.2 299.4 207.6 300.4 207.9 301.4 208.3 302.4 208.7 303.4 209.1 304.4 209.4 305.4 209.8 306.4 210.2 307.4 210.7 308.4 211.2 309.4 211.6 310.4 212.2 311.4 212.7 312.4 213.3 313.4 213.9 314.4 214.5 315.4 215.2 316.4 215.9 317.4 216.6 318.4 217.3 319.4 218.1 320.4 218.9 321.4 219.7 322.4 220.5 323.4 221.3 324.4 222.1 325.4 223.0 326.4 223.8 327.4 224.6 328.4 225.4 329.4 226.2 330.4 227.0 331.4 227.8 332.4 228.5 333.4 229.3 334.4 230.1 335.4 230.9 336.4 231.8 337.4 232.6 338.4 233.5 339.4 234.5 340.4 235.4 341.4 236.4 342.4 237.4 343.4 238.3 344.4 239.3 345.4 240.3 346.4 241.2 347.4 242.1 348.4 242.9 349.4 243.7 350.4 244.4 351.4 245.0 352.4 245.5 353.4 245.9 354.4 246.3 355.4 246.5 356.4 246.7 357.4 246.9 358.4 246.9 359.4 247.0 360.4 247.0 361.4 247.0 362.4 247.0 363.4 246.9 364.4 246.8 365.4 246.7 366.4 246.5 367.4 246.3 368.4 245.9 369.4 245.6 370.4 245.1 371.4 244.6 372.4 244.0 373.4 243.3 374.4 242.5 375.4 241.8 376.4 241.0 377.4 240.1 378.4 239.3 379.4 238.4 380.4 237.6 381.4 236.8 382.4 236.0 383.4 235.2 384.4 234.4 385.4 233.7 386.4 232.9 387.4 232.2 388.4 231.4 389.4 230.6 390.4 229.9 391.4 229.1 392.4 228.1 393.4 227.3 394.4 226.3 395.4 225.3 396.4 224.1 397.4 223.3 398.4 221.9 399.4 220.8 400.4 219.6 401.4 218.6 402.4 217.3 403.4 215.9 404.4 214.7 405.4 213.5 406.4 212.4 407.4 211.1 408.4 210.1 409.4 209.1 410.4 207.6 411.4 205.9 412.4 205.8 413.4 205.0 414.4 203.2 415.4 202.3 416.4 200.8 417.4 201.1 418.4 199.7 419.4 200.3 420.4 197.9 421.4 198.6 422.4 198.5 423.4 197.8 424.4 197.4 425.4 197.8 426.4 197.4 427.4 197.5 428.4 197.7 429.4 197.7 430.4 198.1 431.4 198.5 432.4 198.8 433.4 199.2 434.4 199.7 435.4 200.1 436.4 200.6 437.4 201.1 438.4 201.6 439.4 202.1 440.4 202.7 441.4 203.3 442.4 203.9 443.4 204.5 444.4 205.2 445.4 205.9 446.4 206.6 447.4 207.4 448.4 208.2 449.4 209.0 450.4 209.9 451.4 210.8 452.4 211.7 453.4 212.7 454.4 213.6 455.4 214.6 456.4 215.7 457.4 216.7 458.4 217.7 459.4 218.8 460.4 219.8 461.4 220.8 462.4 221.9 463.4 222.8 464.4 223.8 465.4 224.8 466.4 225.7 467.4 226.5 468.4 227.3 469.4 228.1 470.4 228.8 471.4 229.5 472.4 230.1 473.4 230.7 474.4 231.4 475.4 232.0 476.4 232.6 477.4 233.2 478.4 233.9 479.4 234.6 480.4 235.3 481.4 236.1 482.4 237.0 483.4 237.9 484.4 238.8 485.4 239.7 486.4 240.5 487.4 241.3 488.4 242.1 489.4 242.7 490.4 243.2 491.4 243.6 492.4 243.8 493.4 244.0 494.4 244.1 495.4 244.1 496.4 244.3 497.4 244.0 498.4 243.9 499.4 243.8 500.4 243.8 501.4 243.8 502.4 243.5 503.4 243.6 504.4 243.4 505.4 243.1 506.4 242.3 507.4 242.9 508.4 242.1 509.4 241.9 510.4 241.7 511.4 241.0 512.4 240.8 513.4 240.7 514.4 240.1 515.4 239.8 516.4 238.8 517.4 238.3 518.4 237.2 519.4 236.6 520.4 235.9 521.4 234.4 522.4 232.5 523.4 231.9 524.4 230.3 525.4 228.7 526.4 227.0 527.4 225.3 528.4 223.5 529.4 221.6 530.4 219.8 531.4 217.9 532.4 216.1 533.4 214.2 534.4 212.5 535.4 210.8 536.4 209.2 537.4 207.7 538.4 206.4 539.4 205.5 540.4 204.8 541.4 204.4 542.4 204.2 543.4 204.2 544.4 204.2 545.4 204.3 546.4 204.6 547.4 204.9 548.4 205.5 549.4 206.4 550.4 207.5 551.4 208.8 552.4 210.2 553.4 211.7 554.4 213.3 555.4 214.9 556.4 216.6 557.4 218.3 558.4 220.0 559.4 221.6 560.4 223.2 561.4 224.8 562.4 226.3 563.4 227.8 564.4 229.1 565.4 230.5 566.4 231.7 567.4 232.9 568.4 234.0 569.4 235.0 570.4 236.0 571.4 236.8 572.4 237.7 573.4 238.4 574.4 239.1 575.4 239.7 576.4 240.3 577.4 240.8 578.4 241.3 579.4 241.7 580.4 242.2 581.4 242.6 582.4 243.0 583.4 243.3 584.4 243.7 585.4 244.0 586.4 244.4 587.4 244.7 588.4 245.0 589.4 245.3 590.4 245.6 591.4 245.9 592.4 246.1 593.4 246.4 594.4 246.6 595.4 246.9 596.4 247.1 597.4 247.4 598.4 247.6 599.4 247.8 600.4 248.0 601.4 248.3 602.4 248.4 603.4 248.7 604.4 248.8 605.4 249.0 606.4 249.3 607.4 249.5 608.4 249.6 609.4 250.1 610.4 250.0 611.4 250.4 612.4 250.5 613.4 250.3 614.4 250.8 615.4 250.7 616.4 251.2 617.4 251.5 618.4 252.0 619.4 251.9 620.4 251.4 621.4 251.9 622.4 252.6 623.4 252.3 624.4 253.0 625.4 252.3 626.4 252.5 627.4 252.3 628.4 252.8 629.4 253.5 630.4 252.8 631.4 253.6 632.4 253.5 633.4 253.8 634.4 253.4 635.4 253.6 636.4 254.7 637.4 253.2 638.4 254.2 639.4 254.6 640.4 254.2 641.4 254.8 642.4 252.5 643.4 253.9 644.4 253.5 645.4 253.9 646.4 254.1 647.4 254.4 648.4 253.7 649.4 254.7 650.4 253.2 651.4 254.8 652.4 254.0 653.4 252.9 654.4 252.8 655.4 252.7 656.4 253.2 657.4 253.9 658.4 254.6 659.4 254.1 660.4 252.4 661.4 251.5 662.4 252.8 663.4 251.7 664.4 252.5 665.4 251.8 666.4 254.2 667.4 250.4 668.4 251.8 669.4 252.8 670.4 250.5 671.4 249.9 672.4 251.7 673.4 248.0" stroke="#35A632" stroke-width="3.6" stroke-linecap="round" stroke-linejoin="round" fill="none"/><line x1="251.70" y1="58.6" x2="251.70" y2="247.3" stroke="#35A632" stroke-width="1.80"/><line x1="427.30" y1="58.6" x2="427.30" y2="247.3" stroke="#35A632" stroke-width="1.80"/><line x1="544.20" y1="58.6" x2="544.20" y2="247.3" stroke="#35A632" stroke-width="1.80"/><line x1="362.90" y1="60.4" x2="362.90" y2="246.4" stroke="#35A632" stroke-width="1.80" stroke-linecap="round" stroke-dasharray="6.20 6.80"/><line x1="496.00" y1="60.4" x2="496.00" y2="246.4" stroke="#35A632" stroke-width="1.80" stroke-linecap="round" stroke-dasharray="6.20 6.80"/><path d="M76.4 243.5 77.4 243.4 78.4 243.3 79.4 243.2 80.4 243.1 81.4 243.0 82.4 242.9 83.4 242.8 84.4 242.7 85.4 242.6 86.4 242.5 87.4 242.4 88.4 242.3 89.4 242.2 90.4 242.1 91.4 242.0 92.4 242.0 93.4 241.9 94.4 241.8 95.4 241.7 96.4 241.6 97.4 241.5 98.4 241.4 99.4 241.3 100.4 241.2 101.4 241.1 102.4 241.0 103.4 240.9 104.4 240.8 105.4 240.7 106.4 240.6 107.4 240.6 108.4 240.5 109.4 240.4 110.4 240.3 111.4 240.2 112.4 240.2 113.4 240.1 114.4 240.0 115.4 240.0 116.4 239.9 117.4 239.9 118.4 239.8 119.4 239.8 120.4 239.7 121.4 239.7 122.4 239.6 123.4 239.5 124.4 239.5 125.4 239.4 126.4 239.4 127.4 239.3 128.4 239.3 129.4 239.2 130.4 239.1 131.4 239.1 132.4 239.0 133.4 238.9 134.4 238.8 135.4 238.8 136.4 238.7 137.4 238.6 138.4 238.5 139.4 238.4 140.4 238.3 141.4 238.3 142.4 238.2 143.4 238.1 144.4 238.1 145.4 238.1 146.4 238.1 147.4 238.1 148.4 238.1 149.4 238.2 150.4 238.2 151.4 238.3 152.4 238.5 153.4 238.6 154.4 238.7 155.4 238.8 156.4 238.9 157.4 238.9 158.4 238.9 159.4 238.8 160.4 238.7 161.4 238.5 162.4 238.3 163.4 238.0 164.4 237.6 165.4 237.3 166.4 237.0 167.4 236.6 168.4 236.3 169.4 235.9 170.4 235.6 171.4 235.2 172.4 234.8 173.4 234.4 174.4 234.0 175.4 233.6 176.4 233.1 177.4 232.5 178.4 232.0 179.4 231.4 180.4 230.8 181.4 230.2 182.4 229.6 183.4 228.9 184.4 228.3 185.4 227.6 186.4 227.0 187.4 226.3 188.4 225.7 189.4 225.0 190.4 224.3 191.4 223.7 192.4 223.0 193.4 222.3 194.4 221.6 195.4 220.9 196.4 220.1 197.4 219.4 198.4 218.7 199.4 217.9 200.4 217.1 201.4 216.4 202.4 215.6 203.4 214.8 204.4 214.1 205.4 213.3 206.4 212.5 207.4 211.7 208.4 210.9 209.4 210.2 210.4 209.4 211.4 208.7 212.4 208.0 213.4 207.3 214.4 206.6 215.4 205.9 216.4 205.2 217.4 204.5 218.4 203.8 219.4 203.1 220.4 202.3 221.4 201.6 222.4 200.9 223.4 200.2 224.4 199.5 225.4 198.8 226.4 198.2 227.4 197.6 228.4 197.1 229.4 196.6 230.4 196.1 231.4 195.7 232.4 195.4 233.4 195.1 234.4 194.8 235.4 194.5 236.4 194.3 237.4 194.1 238.4 193.9 239.4 193.7 240.4 193.5 241.4 193.3 242.4 193.2 243.4 193.0 244.4 192.8 245.4 192.7 246.4 192.5 247.4 192.4 248.4 192.3 249.4 192.2 250.4 192.1 251.4 192.1 252.4 192.1 253.4 192.1 254.4 192.2 255.4 192.3 256.4 192.4 257.4 192.5 258.4 192.7 259.4 192.8 260.4 193.0 261.4 193.3 262.4 193.5 263.4 193.7 264.4 194.0 265.4 194.3 266.4 194.5 267.4 194.8 268.4 195.1 269.4 195.4 270.4 195.7 271.4 196.0 272.4 196.4 273.4 196.7 274.4 197.1 275.4 197.5 276.4 198.0 277.4 198.4 278.4 198.9 279.4 199.4 280.4 200.0 281.4 200.6 282.4 201.2 283.4 201.8 284.4 202.4 285.4 203.0 286.4 203.6 287.4 204.2 288.4 204.8 289.4 205.4 290.4 206.0 291.4 206.5 292.4 207.0 293.4 207.5 294.4 207.9 295.4 208.3 296.4 208.7 297.4 209.1 298.4 209.4 299.4 209.8 300.4 210.2 301.4 210.6 302.4 211.0 303.4 211.4 304.4 211.8 305.4 212.3 306.4 212.8 307.4 213.3 308.4 213.9 309.4 214.5 310.4 215.1 311.4 215.7 312.4 216.3 313.4 217.0 314.4 217.7 315.4 218.4 316.4 219.1 317.4 219.9 318.4 220.6 319.4 221.4 320.4 222.3 321.4 223.1 322.4 223.9 323.4 224.8 324.4 225.7 325.4 226.6 326.4 227.5 327.4 228.4 328.4 229.3 329.4 230.2 330.4 231.1 331.4 231.9 332.4 232.7 333.4 233.5 334.4 234.2 335.4 234.9 336.4 235.4 337.4 235.9 338.4 236.4 339.4 236.8 340.4 237.1 341.4 237.4 342.4 237.6 343.4 237.8 344.4 238.0 345.4 238.2 346.4 238.3 347.4 238.5 348.4 238.7 349.4 238.9 350.4 239.1 351.4 239.3 352.4 239.5 353.4 239.8 354.4 240.0 355.4 240.3 356.4 240.5 357.4 240.6 358.4 240.8 359.4 240.8 360.4 240.8 361.4 240.7 362.4 240.5 363.4 240.3 364.4 240.1 365.4 239.9 366.4 239.6 367.4 239.4 368.4 239.1 369.4 239.0 370.4 238.8 371.4 238.7 372.4 238.5 373.4 238.4 374.4 238.2 375.4 238.1 376.4 237.9 377.4 237.6 378.4 237.3 379.4 236.9 380.4 236.5 381.4 236.0 382.4 235.4 383.4 234.7 384.4 234.0 385.4 233.2 386.4 232.4 387.4 231.5 388.4 230.6 389.4 229.6 390.4 228.5 391.4 227.5 392.4 226.3 393.4 225.3 394.4 224.0 395.4 222.7 396.4 221.8 397.4 220.3 398.4 219.2 399.4 218.1 400.4 217.0 401.4 215.6 402.4 214.5 403.4 213.3 404.4 212.4 405.4 211.0 406.4 210.2 407.4 209.4 408.4 208.0 409.4 207.0 410.4 205.9 411.4 205.1 412.4 204.1 413.4 203.4 414.4 202.8 415.4 202.5 416.4 201.9 417.4 201.0 418.4 200.8 419.4 199.7 420.4 200.7 421.4 200.6 422.4 199.2 423.4 199.3 424.4 199.0 425.4 199.3 426.4 198.7 427.4 198.3 428.4 199.7 429.4 198.9 430.4 200.0 431.4 200.2 432.4 200.6 433.4 201.0 434.4 201.5 435.4 202.0 436.4 202.6 437.4 203.2 438.4 203.8 439.4 204.4 440.4 205.1 441.4 205.9 442.4 206.6 443.4 207.4 444.4 208.2 445.4 209.0 446.4 209.9 447.4 210.8 448.4 211.8 449.4 212.7 450.4 213.7 451.4 214.7 452.4 215.7 453.4 216.7 454.4 217.8 455.4 218.8 456.4 219.8 457.4 220.8 458.4 221.8 459.4 222.8 460.4 223.8 461.4 224.7 462.4 225.7 463.4 226.5 464.4 227.4 465.4 228.2 466.4 229.0 467.4 229.8 468.4 230.5 469.4 231.2 470.4 231.9 471.4 232.6 472.4 233.2 473.4 233.8 474.4 234.4 475.4 235.1 476.4 235.7 477.4 236.3 478.4 236.9 479.4 237.5 480.4 238.1 481.4 238.6 482.4 239.2 483.4 239.8 484.4 240.3 485.4 240.8 486.4 241.2 487.4 241.6 488.4 242.0 489.4 242.3 490.4 242.6 491.4 242.8 492.4 243.0 493.4 243.1 494.4 243.2 495.4 243.3 496.4 243.3 497.4 243.1 498.4 243.0 499.4 242.9 500.4 242.8 501.4 242.6 502.4 242.7 503.4 242.3 504.4 242.2 505.4 242.2 506.4 241.6 507.4 242.0 508.4 241.8 509.4 241.8 510.4 240.7 511.4 240.4 512.4 240.0 513.4 239.1 514.4 237.9 515.4 237.8 516.4 236.3 517.4 235.5 518.4 233.6 519.4 233.2 520.4 231.2 521.4 229.4 522.4 228.4 523.4 226.1 524.4 224.0 525.4 221.7 526.4 219.3 527.4 216.8 528.4 214.2 529.4 211.7 530.4 209.2 531.4 206.9 532.4 204.7 533.4 202.7 534.4 200.8 535.4 199.1 536.4 197.6 537.4 196.2 538.4 195.0 539.4 194.0 540.4 193.1 541.4 192.4 542.4 191.9 543.4 191.5 544.4 191.3 545.4 191.3 546.4 191.8 547.4 192.6 548.4 194.0 549.4 195.9 550.4 198.2 551.4 200.7 552.4 203.3 553.4 206.0 554.4 208.7 555.4 211.3 556.4 213.9 557.4 216.6 558.4 219.2 559.4 221.7 560.4 224.0 561.4 226.2 562.4 228.2 563.4 229.9 564.4 231.5 565.4 232.9 566.4 234.1 567.4 235.2 568.4 236.2 569.4 237.1 570.4 237.9 571.4 238.6 572.4 239.2 573.4 239.8 574.4 240.4 575.4 241.0 576.4 241.6 577.4 242.1 578.4 242.6 579.4 243.1 580.4 243.6 581.4 244.0 582.4 244.5 583.4 244.9 584.4 245.3 585.4 245.7 586.4 246.0 587.4 246.4 588.4 246.7 589.4 247.0 590.4 247.3 591.4 247.6 592.4 247.8 593.4 248.1 594.4 248.4 595.4 248.6 596.4 248.8 597.4 249.1 598.4 249.3 599.4 249.5 600.4 249.8 601.4 250.1 602.4 250.2 603.4 250.5 604.4 250.9 605.4 251.0 606.4 251.2 607.4 251.2 608.4 251.5 609.4 251.8 610.4 252.1 611.4 252.5 612.4 253.1 613.4 252.7 614.4 253.1 615.4 253.5 616.4 253.7 617.4 254.2 618.4 254.1 619.4 254.1 620.4 255.2 621.4 255.0 622.4 254.7 623.4 255.2 624.4 255.5 625.4 255.2 626.4 256.1 627.4 256.1 628.4 256.1 629.4 256.2 630.4 257.2 631.4 256.7 632.4 256.5 633.4 256.1 634.4 256.7 635.4 257.6 636.4 258.1 637.4 257.0 638.4 256.6 639.4 257.7 640.4 257.8 641.4 258.4 642.4 257.6 643.4 258.2 644.4 257.2 645.4 257.6 646.4 258.0 647.4 258.2 648.4 258.8 649.4 259.3 650.4 257.7 651.4 259.7 652.4 258.2 653.4 258.5 654.4 259.5 655.4 257.2 656.4 257.8 657.4 258.3 658.4 258.9 659.4 259.6 660.4 259.6 661.4 258.1 662.4 259.3 663.4 258.4 664.4 259.8 665.4 258.4 666.4 259.4 667.4 257.6 668.4 259.0 669.4 257.1 670.4 258.3 671.4 256.7 672.4 257.8 673.4 257.2" stroke="#FFE011" stroke-width="3.6" stroke-linecap="round" stroke-linejoin="round" fill="none"/><line x1="257.00" y1="58.6" x2="257.00" y2="247.3" stroke="#FFE011" stroke-width="1.80"/><line x1="428.10" y1="58.6" x2="428.10" y2="247.3" stroke="#FFE011" stroke-width="1.80"/><line x1="542.90" y1="58.6" x2="542.90" y2="247.3" stroke="#FFE011" stroke-width="1.80"/><line x1="357.95" y1="60.4" x2="357.95" y2="246.4" stroke="#FFE011" stroke-width="1.80" stroke-linecap="round" stroke-dasharray="6.20 6.80"/><line x1="497.20" y1="60.4" x2="497.20" y2="246.4" stroke="#FFE011" stroke-width="1.80" stroke-linecap="round" stroke-dasharray="6.20 6.80"/><path d="M76.4 243.5 77.4 243.4 78.4 243.3 79.4 243.2 80.4 243.1 81.4 243.0 82.4 242.9 83.4 242.8 84.4 242.7 85.4 242.6 86.4 242.5 87.4 242.4 88.4 242.3 89.4 242.2 90.4 242.1 91.4 242.0 92.4 241.9 93.4 241.9 94.4 241.8 95.4 241.7 96.4 241.6 97.4 241.5 98.4 241.4 99.4 241.3 100.4 241.2 101.4 241.1 102.4 241.0 103.4 240.9 104.4 240.8 105.4 240.8 106.4 240.7 107.4 240.6 108.4 240.5 109.4 240.4 110.4 240.3 111.4 240.2 112.4 240.2 113.4 240.1 114.4 240.0 115.4 239.9 116.4 239.9 117.4 239.8 118.4 239.7 119.4 239.6 120.4 239.6 121.4 239.5 122.4 239.4 123.4 239.4 124.4 239.3 125.4 239.3 126.4 239.2 127.4 239.1 128.4 239.1 129.4 239.0 130.4 239.0 131.4 238.9 132.4 238.9 133.4 238.9 134.4 238.8 135.4 238.8 136.4 238.8 137.4 238.7 138.4 238.7 139.4 238.7 140.4 238.6 141.4 238.6 142.4 238.6 143.4 238.5 144.4 238.5 145.4 238.5 146.4 238.4 147.4 238.4 148.4 238.3 149.4 238.2 150.4 238.2 151.4 238.1 152.4 238.0 153.4 237.9 154.4 237.8 155.4 237.7 156.4 237.5 157.4 237.4 158.4 237.2 159.4 237.0 160.4 236.8 161.4 236.6 162.4 236.3 163.4 236.1 164.4 235.8 165.4 235.5 166.4 235.2 167.4 234.9 168.4 234.6 169.4 234.3 170.4 233.9 171.4 233.6 172.4 233.2 173.4 232.9 174.4 232.5 175.4 232.0 176.4 231.6 177.4 231.1 178.4 230.6 179.4 230.1 180.4 229.5 181.4 228.9 182.4 228.3 183.4 227.7 184.4 227.1 185.4 226.4 186.4 225.8 187.4 225.1 188.4 224.5 189.4 223.8 190.4 223.2 191.4 222.5 192.4 221.8 193.4 221.1 194.4 220.4 195.4 219.7 196.4 219.0 197.4 218.3 198.4 217.6 199.4 216.8 200.4 216.1 201.4 215.3 202.4 214.6 203.4 213.8 204.4 213.0 205.4 212.3 206.4 211.5 207.4 210.7 208.4 209.9 209.4 209.1 210.4 208.4 211.4 207.6 212.4 206.9 213.4 206.1 214.4 205.4 215.4 204.7 216.4 204.0 217.4 203.3 218.4 202.6 219.4 201.9 220.4 201.2 221.4 200.5 222.4 199.9 223.4 199.2 224.4 198.5 225.4 197.8 226.4 197.2 227.4 196.5 228.4 195.9 229.4 195.2 230.4 194.6 231.4 194.0 232.4 193.4 233.4 192.8 234.4 192.3 235.4 191.7 236.4 191.2 237.4 190.7 238.4 190.3 239.4 189.9 240.4 189.5 241.4 189.1 242.4 188.8 243.4 188.6 244.4 188.3 245.4 188.1 246.4 188.0 247.4 187.9 248.4 187.8 249.4 187.7 250.4 187.7 251.4 187.7 252.4 187.7 253.4 187.7 254.4 187.8 255.4 187.8 256.4 187.9 257.4 188.1 258.4 188.2 259.4 188.3 260.4 188.5 261.4 188.7 262.4 188.9 263.4 189.1 264.4 189.3 265.4 189.6 266.4 189.8 267.4 190.1 268.4 190.4 269.4 190.6 270.4 190.9 271.4 191.2 272.4 191.6 273.4 191.9 274.4 192.3 275.4 192.6 276.4 193.0 277.4 193.4 278.4 193.8 279.4 194.3 280.4 194.7 281.4 195.2 282.4 195.7 283.4 196.3 284.4 196.8 285.4 197.4 286.4 198.0 287.4 198.6 288.4 199.2 289.4 199.8 290.4 200.4 291.4 201.0 292.4 201.7 293.4 202.2 294.4 202.8 295.4 203.4 296.4 203.9 297.4 204.4 298.4 204.8 299.4 205.3 300.4 205.7 301.4 206.0 302.4 206.4 303.4 206.8 304.4 207.2 305.4 207.5 306.4 207.9 307.4 208.3 308.4 208.8 309.4 209.2 310.4 209.7 311.4 210.2 312.4 210.7 313.4 211.2 314.4 211.8 315.4 212.4 316.4 213.0 317.4 213.7 318.4 214.4 319.4 215.1 320.4 215.8 321.4 216.5 322.4 217.3 323.4 218.1 324.4 218.9 325.4 219.7 326.4 220.5 327.4 221.4 328.4 222.2 329.4 223.1 330.4 223.9 331.4 224.8 332.4 225.6 333.4 226.5 334.4 227.3 335.4 228.2 336.4 229.0 337.4 229.8 338.4 230.6 339.4 231.4 340.4 232.1 341.4 232.9 342.4 233.6 343.4 234.3 344.4 234.9 345.4 235.6 346.4 236.2 347.4 236.8 348.4 237.4 349.4 237.9 350.4 238.5 351.4 239.0 352.4 239.4 353.4 239.9 354.4 240.3 355.4 240.7 356.4 241.1 357.4 241.5 358.4 241.8 359.4 242.1 360.4 242.4 361.4 242.7 362.4 242.9 363.4 243.1 364.4 243.2 365.4 243.3 366.4 243.4 367.4 243.4 368.4 243.4 369.4 243.3 370.4 243.1 371.4 243.0 372.4 242.7 373.4 242.5 374.4 242.2 375.4 241.9 376.4 241.6 377.4 241.2 378.4 240.8 379.4 240.4 380.4 239.9 381.4 239.4 382.4 238.9 383.4 238.3 384.4 237.7 385.4 237.1 386.4 236.4 387.4 235.7 388.4 235.0 389.4 234.2 390.4 233.5 391.4 232.5 392.4 231.8 393.4 230.7 394.4 230.2 395.4 228.9 396.4 227.9 397.4 227.1 398.4 226.0 399.4 224.9 400.4 223.6 401.4 222.9 402.4 221.7 403.4 220.3 404.4 218.9 405.4 218.0 406.4 216.9 407.4 214.8 408.4 213.5 409.4 212.4 410.4 210.7 411.4 209.4 412.4 208.0 413.4 207.0 414.4 205.7 415.4 204.7 416.4 203.6 417.4 202.2 418.4 200.9 419.4 201.5 420.4 201.2 421.4 201.0 422.4 200.5 423.4 201.7 424.4 200.1 425.4 201.4 426.4 201.6 427.4 202.0 428.4 202.5 429.4 202.4 430.4 202.7 431.4 202.9 432.4 203.3 433.4 203.8 434.4 204.3 435.4 204.8 436.4 205.4 437.4 206.0 438.4 206.6 439.4 207.3 440.4 208.0 441.4 208.8 442.4 209.5 443.4 210.4 444.4 211.2 445.4 212.1 446.4 213.1 447.4 214.0 448.4 215.0 449.4 216.0 450.4 217.0 451.4 218.1 452.4 219.1 453.4 220.1 454.4 221.2 455.4 222.2 456.4 223.2 457.4 224.1 458.4 225.1 459.4 226.0 460.4 226.9 461.4 227.8 462.4 228.7 463.4 229.5 464.4 230.3 465.4 231.0 466.4 231.8 467.4 232.5 468.4 233.1 469.4 233.8 470.4 234.4 471.4 235.1 472.4 235.7 473.4 236.2 474.4 236.8 475.4 237.4 476.4 237.9 477.4 238.5 478.4 239.0 479.4 239.5 480.4 240.0 481.4 240.5 482.4 241.0 483.4 241.4 484.4 241.8 485.4 242.2 486.4 242.5 487.4 242.8 488.4 243.1 489.4 243.3 490.4 243.6 491.4 243.7 492.4 243.8 493.4 244.0 494.4 244.0 495.4 244.0 496.4 244.0 497.4 243.9 498.4 244.0 499.4 243.8 500.4 243.5 501.4 243.4 502.4 243.3 503.4 242.8 504.4 243.2 505.4 242.8 506.4 242.2 507.4 242.2 508.4 242.6 509.4 242.0 510.4 242.3 511.4 241.4 512.4 241.2 513.4 241.3 514.4 240.9 515.4 239.4 516.4 239.6 517.4 238.3 518.4 238.0 519.4 236.8 520.4 237.2 521.4 235.8 522.4 235.2 523.4 234.9 524.4 234.0 525.4 233.1 526.4 232.1 527.4 231.0 528.4 229.7 529.4 228.2 530.4 226.7 531.4 225.1 532.4 223.4 533.4 221.7 534.4 219.9 535.4 218.2 536.4 216.5 537.4 214.9 538.4 213.4 539.4 211.9 540.4 210.6 541.4 209.4 542.4 208.5 543.4 207.7 544.4 207.1 545.4 206.7 546.4 206.4 547.4 206.2 548.4 206.2 549.4 206.2 550.4 206.4 551.4 206.7 552.4 207.3 553.4 208.2 554.4 209.4 555.4 210.7 556.4 212.2 557.4 213.6 558.4 215.1 559.4 216.6 560.4 218.2 561.4 219.7 562.4 221.4 563.4 223.1 564.4 224.9 565.4 226.8 566.4 228.7 567.4 230.6 568.4 232.5 569.4 234.3 570.4 235.9 571.4 237.4 572.4 238.7 573.4 239.8 574.4 240.6 575.4 241.3 576.4 241.9 577.4 242.3 578.4 242.6 579.4 242.9 580.4 243.1 581.4 243.3 582.4 243.4 583.4 243.6 584.4 243.8 585.4 244.1 586.4 244.3 587.4 244.6 588.4 244.9 589.4 245.2 590.4 245.5 591.4 245.8 592.4 246.1 593.4 246.5 594.4 246.8 595.4 247.2 596.4 247.5 597.4 247.8 598.4 248.2 599.4 248.5 600.4 248.8 601.4 249.1 602.4 249.4 603.4 249.6 604.4 250.0 605.4 250.1 606.4 250.5 607.4 250.9 608.4 250.9 609.4 251.2 610.4 251.2 611.4 251.2 612.4 251.7 613.4 251.8 614.4 252.0 615.4 252.1 616.4 252.3 617.4 252.2 618.4 252.6 619.4 252.8 620.4 252.5 621.4 252.7 622.4 253.2 623.4 253.1 624.4 253.0 625.4 252.7 626.4 253.2 627.4 253.8 628.4 253.3 629.4 253.5 630.4 253.3 631.4 253.7 632.4 253.8 633.4 254.0 634.4 253.7 635.4 253.6 636.4 255.1 637.4 254.3 638.4 253.9 639.4 254.3 640.4 254.7 641.4 255.0 642.4 254.7 643.4 254.4 644.4 254.9 645.4 253.9 646.4 254.2 647.4 255.5 648.4 254.9 649.4 254.7 650.4 254.4 651.4 254.1 652.4 254.9 653.4 254.8 654.4 255.8 655.4 254.1 656.4 254.6 657.4 254.3 658.4 253.9 659.4 255.7 660.4 255.3 661.4 254.3 662.4 253.0 663.4 254.2 664.4 254.2 665.4 253.2 666.4 252.2 667.4 254.7 668.4 252.0 669.4 253.8 670.4 252.2 671.4 252.2 672.4 253.2 673.4 251.2" stroke="#FF8A32" stroke-width="3.6" stroke-linecap="round" stroke-linejoin="round" fill="none"/><line x1="253.00" y1="58.6" x2="253.00" y2="247.3" stroke="#FF8A32" stroke-width="1.80"/><line x1="426.00" y1="58.6" x2="426.00" y2="247.3" stroke="#FF8A32" stroke-width="1.80"/><line x1="548.60" y1="58.6" x2="548.60" y2="247.3" stroke="#FF8A32" stroke-width="1.80"/><line x1="369.20" y1="60.4" x2="369.20" y2="246.4" stroke="#FF8A32" stroke-width="1.80" stroke-linecap="round" stroke-dasharray="6.20 6.80"/><line x1="494.60" y1="60.4" x2="494.60" y2="246.4" stroke="#FF8A32" stroke-width="1.80" stroke-linecap="round" stroke-dasharray="6.20 6.80"/><path d="M76.4 243.5 77.4 243.4 78.4 243.3 79.4 243.2 80.4 243.1 81.4 243.0 82.4 242.9 83.4 242.8 84.4 242.7 85.4 242.6 86.4 242.5 87.4 242.4 88.4 242.3 89.4 242.2 90.4 242.1 91.4 242.0 92.4 241.9 93.4 241.8 94.4 241.8 95.4 241.7 96.4 241.6 97.4 241.5 98.4 241.4 99.4 241.3 100.4 241.2 101.4 241.1 102.4 241.0 103.4 240.9 104.4 240.9 105.4 240.8 106.4 240.7 107.4 240.6 108.4 240.5 109.4 240.4 110.4 240.3 111.4 240.3 112.4 240.2 113.4 240.1 114.4 240.0 115.4 239.9 116.4 239.8 117.4 239.7 118.4 239.7 119.4 239.6 120.4 239.5 121.4 239.4 122.4 239.4 123.4 239.3 124.4 239.2 125.4 239.2 126.4 239.1 127.4 239.1 128.4 239.0 129.4 239.0 130.4 238.9 131.4 238.9 132.4 238.9 133.4 238.8 134.4 238.8 135.4 238.8 136.4 238.8 137.4 238.8 138.4 238.8 139.4 238.8 140.4 238.8 141.4 238.8 142.4 238.7 143.4 238.7 144.4 238.7 145.4 238.6 146.4 238.6 147.4 238.5 148.4 238.4 149.4 238.3 150.4 238.1 151.4 238.0 152.4 237.8 153.4 237.6 154.4 237.4 155.4 237.2 156.4 236.9 157.4 236.7 158.4 236.4 159.4 236.2 160.4 235.9 161.4 235.6 162.4 235.4 163.4 235.1 164.4 234.8 165.4 234.5 166.4 234.2 167.4 233.9 168.4 233.6 169.4 233.3 170.4 233.0 171.4 232.7 172.4 232.3 173.4 231.9 174.4 231.5 175.4 231.1 176.4 230.6 177.4 230.2 178.4 229.6 179.4 229.1 180.4 228.5 181.4 227.9 182.4 227.3 183.4 226.7 184.4 226.1 185.4 225.5 186.4 224.8 187.4 224.2 188.4 223.5 189.4 222.9 190.4 222.2 191.4 221.5 192.4 220.9 193.4 220.2 194.4 219.5 195.4 218.8 196.4 218.1 197.4 217.3 198.4 216.6 199.4 215.9 200.4 215.1 201.4 214.4 202.4 213.6 203.4 212.8 204.4 212.1 205.4 211.3 206.4 210.5 207.4 209.7 208.4 209.0 209.4 208.2 210.4 207.4 211.4 206.7 212.4 205.9 213.4 205.2 214.4 204.4 215.4 203.7 216.4 203.0 217.4 202.3 218.4 201.6 219.4 201.0 220.4 200.3 221.4 199.6 222.4 198.9 223.4 198.2 224.4 197.5 225.4 196.9 226.4 196.2 227.4 195.5 228.4 194.9 229.4 194.3 230.4 193.7 231.4 193.1 232.4 192.5 233.4 191.9 234.4 191.4 235.4 190.9 236.4 190.4 237.4 190.0 238.4 189.5 239.4 189.1 240.4 188.7 241.4 188.3 242.4 188.0 243.4 187.7 244.4 187.4 245.4 187.1 246.4 186.8 247.4 186.6 248.4 186.4 249.4 186.3 250.4 186.1 251.4 186.0 252.4 185.9 253.4 185.9 254.4 185.8 255.4 185.8 256.4 185.8 257.4 185.8 258.4 185.9 259.4 185.9 260.4 186.0 261.4 186.1 262.4 186.3 263.4 186.4 264.4 186.6 265.4 186.8 266.4 187.0 267.4 187.2 268.4 187.5 269.4 187.8 270.4 188.0 271.4 188.3 272.4 188.7 273.4 189.0 274.4 189.3 275.4 189.7 276.4 190.1 277.4 190.5 278.4 190.9 279.4 191.3 280.4 191.8 281.4 192.2 282.4 192.7 283.4 193.2 284.4 193.7 285.4 194.3 286.4 194.8 287.4 195.4 288.4 196.0 289.4 196.6 290.4 197.2 291.4 197.8 292.4 198.4 293.4 199.0 294.4 199.6 295.4 200.3 296.4 200.8 297.4 201.4 298.4 202.0 299.4 202.5 300.4 203.0 301.4 203.5 302.4 203.9 303.4 204.3 304.4 204.7 305.4 205.1 306.4 205.5 307.4 205.8 308.4 206.2 309.4 206.6 310.4 207.0 311.4 207.4 312.4 207.8 313.4 208.3 314.4 208.8 315.4 209.3 316.4 209.8 317.4 210.4 318.4 211.0 319.4 211.6 320.4 212.2 321.4 212.9 322.4 213.6 323.4 214.3 324.4 215.0 325.4 215.8 326.4 216.6 327.4 217.4 328.4 218.2 329.4 219.0 330.4 219.8 331.4 220.7 332.4 221.5 333.4 222.4 334.4 223.2 335.4 224.0 336.4 224.8 337.4 225.7 338.4 226.5 339.4 227.3 340.4 228.1 341.4 228.9 342.4 229.7 343.4 230.6 344.4 231.4 345.4 232.2 346.4 233.0 347.4 233.8 348.4 234.6 349.4 235.3 350.4 236.1 351.4 236.9 352.4 237.6 353.4 238.3 354.4 239.0 355.4 239.7 356.4 240.3 357.4 240.9 358.4 241.5 359.4 242.1 360.4 242.6 361.4 243.1 362.4 243.6 363.4 244.0 364.4 244.3 365.4 244.6 366.4 244.9 367.4 245.2 368.4 245.4 369.4 245.5 370.4 245.6 371.4 245.7 372.4 245.7 373.4 245.7 374.4 245.6 375.4 245.5 376.4 245.4 377.4 245.2 378.4 245.0 379.4 244.7 380.4 244.4 381.4 244.0 382.4 243.7 383.4 243.2 384.4 242.8 385.4 242.3 386.4 241.7 387.4 241.3 388.4 240.7 389.4 240.0 390.4 239.5 391.4 238.8 392.4 238.2 393.4 237.4 394.4 236.9 395.4 236.1 396.4 235.4 397.4 234.8 398.4 234.0 399.4 233.0 400.4 232.6 401.4 231.2 402.4 230.2 403.4 229.4 404.4 228.9 405.4 227.3 406.4 225.9 407.4 224.9 408.4 224.0 409.4 222.9 410.4 221.6 411.4 220.6 412.4 219.7 413.4 217.9 414.4 216.8 415.4 215.5 416.4 214.5 417.4 213.8 418.4 212.4 419.4 210.9 420.4 210.7 421.4 210.1 422.4 208.7 423.4 208.6 424.4 207.5 425.4 205.6 426.4 205.5 427.4 204.5 428.4 204.3 429.4 203.6 430.4 203.7 431.4 203.3 432.4 202.9 433.4 202.7 434.4 202.4 435.4 202.3 436.4 202.2 437.4 202.1 438.4 202.2 439.4 202.2 440.4 202.4 441.4 202.6 442.4 202.8 443.4 203.2 444.4 203.7 445.4 204.2 446.4 204.9 447.4 205.6 448.4 206.5 449.4 207.4 450.4 208.4 451.4 209.4 452.4 210.5 453.4 211.5 454.4 212.6 455.4 213.6 456.4 214.6 457.4 215.6 458.4 216.6 459.4 217.6 460.4 218.6 461.4 219.6 462.4 220.6 463.4 221.6 464.4 222.5 465.4 223.5 466.4 224.5 467.4 225.4 468.4 226.4 469.4 227.3 470.4 228.2 471.4 229.1 472.4 229.9 473.4 230.7 474.4 231.5 475.4 232.2 476.4 232.9 477.4 233.6 478.4 234.2 479.4 234.9 480.4 235.5 481.4 236.1 482.4 236.7 483.4 237.2 484.4 237.8 485.4 238.3 486.4 238.9 487.4 239.4 488.4 239.9 489.4 240.4 490.4 240.8 491.4 241.3 492.4 241.7 493.4 242.1 494.4 242.5 495.4 242.8 496.4 243.2 497.4 243.3 498.4 243.7 499.4 243.8 500.4 244.2 501.4 244.4 502.4 244.2 503.4 244.4 504.4 244.3 505.4 244.6 506.4 244.8 507.4 244.4 508.4 244.4 509.4 243.9 510.4 244.7 511.4 243.7 512.4 243.9 513.4 243.5 514.4 243.8 515.4 243.2 516.4 242.9 517.4 242.3 518.4 243.1 519.4 241.7 520.4 243.0 521.4 242.7 522.4 242.8 523.4 241.9 524.4 241.7 525.4 241.6 526.4 241.4 527.4 241.2 528.4 241.0 529.4 240.8 530.4 240.6 531.4 240.4 532.4 240.1 533.4 239.8 534.4 239.4 535.4 239.0 536.4 238.6 537.4 238.2 538.4 237.7 539.4 237.1 540.4 236.6 541.4 236.0 542.4 235.3 543.4 234.6 544.4 233.9 545.4 233.1 546.4 232.3 547.4 231.5 548.4 230.6 549.4 229.6 550.4 228.6 551.4 227.6 552.4 226.5 553.4 225.3 554.4 224.1 555.4 222.9 556.4 221.6 557.4 220.3 558.4 219.1 559.4 218.0 560.4 217.0 561.4 216.1 562.4 215.4 563.4 214.9 564.4 214.5 565.4 214.3 566.4 214.2 567.4 214.3 568.4 214.4 569.4 214.8 570.4 215.2 571.4 215.7 572.4 216.4 573.4 217.2 574.4 218.1 575.4 219.1 576.4 220.2 577.4 221.5 578.4 222.8 579.4 224.2 580.4 225.6 581.4 226.9 582.4 228.2 583.4 229.4 584.4 230.6 585.4 231.6 586.4 232.6 587.4 233.5 588.4 234.3 589.4 235.1 590.4 235.8 591.4 236.5 592.4 237.2 593.4 237.9 594.4 238.5 595.4 239.1 596.4 239.7 597.4 240.2 598.4 240.8 599.4 241.4 600.4 241.8 601.4 242.3 602.4 242.8 603.4 243.1 604.4 243.7 605.4 244.2 606.4 244.4 607.4 245.0 608.4 245.2 609.4 245.7 610.4 246.2 611.4 246.0 612.4 246.5 613.4 246.6 614.4 246.9 615.4 247.3 616.4 247.6 617.4 247.9 618.4 248.1 619.4 247.7 620.4 248.3 621.4 248.1 622.4 249.0 623.4 249.3 624.4 249.4 625.4 249.3 626.4 249.8 627.4 250.1 628.4 250.3 629.4 250.1 630.4 250.3 631.4 251.1 632.4 250.8 633.4 251.0 634.4 251.2 635.4 251.6 636.4 251.7 637.4 251.5 638.4 251.6 639.4 251.8 640.4 252.1 641.4 252.5 642.4 251.6 643.4 253.2 644.4 251.9 645.4 252.6 646.4 252.1 647.4 252.4 648.4 252.7 649.4 253.2 650.4 253.0 651.4 253.4 652.4 252.7 653.4 254.0 654.4 251.9 655.4 253.1 656.4 253.1 657.4 252.6 658.4 252.8 659.4 252.2 660.4 253.0 661.4 252.3 662.4 253.1 663.4 252.7 664.4 252.7 665.4 252.3 666.4 251.4 667.4 252.5 668.4 252.5 669.4 251.4 670.4 250.7 671.4 250.9 672.4 252.2 673.4 249.7" stroke="#BE2031" stroke-width="3.6" stroke-linecap="round" stroke-linejoin="round" fill="none"/><line x1="256.40" y1="58.6" x2="256.40" y2="247.3" stroke="#BE2031" stroke-width="1.80"/><line x1="439.00" y1="58.6" x2="439.00" y2="247.3" stroke="#BE2031" stroke-width="1.80"/><line x1="567.15" y1="58.6" x2="567.15" y2="247.3" stroke="#BE2031" stroke-width="1.80"/><line x1="371.60" y1="60.4" x2="371.60" y2="246.4" stroke="#BE2031" stroke-width="1.80" stroke-linecap="round" stroke-dasharray="6.20 6.80"/><line x1="504.70" y1="60.4" x2="504.70" y2="246.4" stroke="#BE2031" stroke-width="1.80" stroke-linecap="round" stroke-dasharray="6.20 6.80"/><text x="255.4" y="55.5" font-size="14.6" text-anchor="middle" >1</text><text x="371.0" y="55.5" font-size="14.6" text-anchor="middle" >2</text><text x="438.7" y="55.5" font-size="14.6" text-anchor="middle" >3</text><text x="504.4" y="55.5" font-size="14.6" text-anchor="middle" >4</text><text x="566.9" y="55.5" font-size="14.6" text-anchor="middle" >5</text><text x="330.9" y="123.6" font-size="19.8" text-anchor="middle" >J</text><text x="447.6" y="83.6" font-size="19" text-anchor="middle" >I</text><text x="608.4" y="81.5" font-size="19" text-anchor="middle" >P</text><path d="M335.5 40.2V256.8M468.1 40.2V256.8" stroke="#222" stroke-width="0.9" fill="none"/><circle cx="66" cy="50.3" r="2.55" fill="#2320C8"/><text x="79.6" y="55.9" font-size="15" text-anchor="start" >6 h</text><circle cx="66" cy="68.3" r="2.55" fill="#35A632"/><text x="79.6" y="73.9" font-size="15" text-anchor="start" >10 h</text><circle cx="66" cy="86.3" r="2.55" fill="#FFE011"/><text x="79.6" y="91.9" font-size="15" text-anchor="start" >14 h</text><circle cx="66" cy="104.3" r="2.55" fill="#FF8A32"/><text x="79.6" y="109.9" font-size="15" text-anchor="start" >18 h</text><circle cx="66" cy="122.3" r="2.55" fill="#BE2031"/><text x="79.6" y="127.9" font-size="15" text-anchor="start" >22 h</text></g>
</svg>
</body></html>
